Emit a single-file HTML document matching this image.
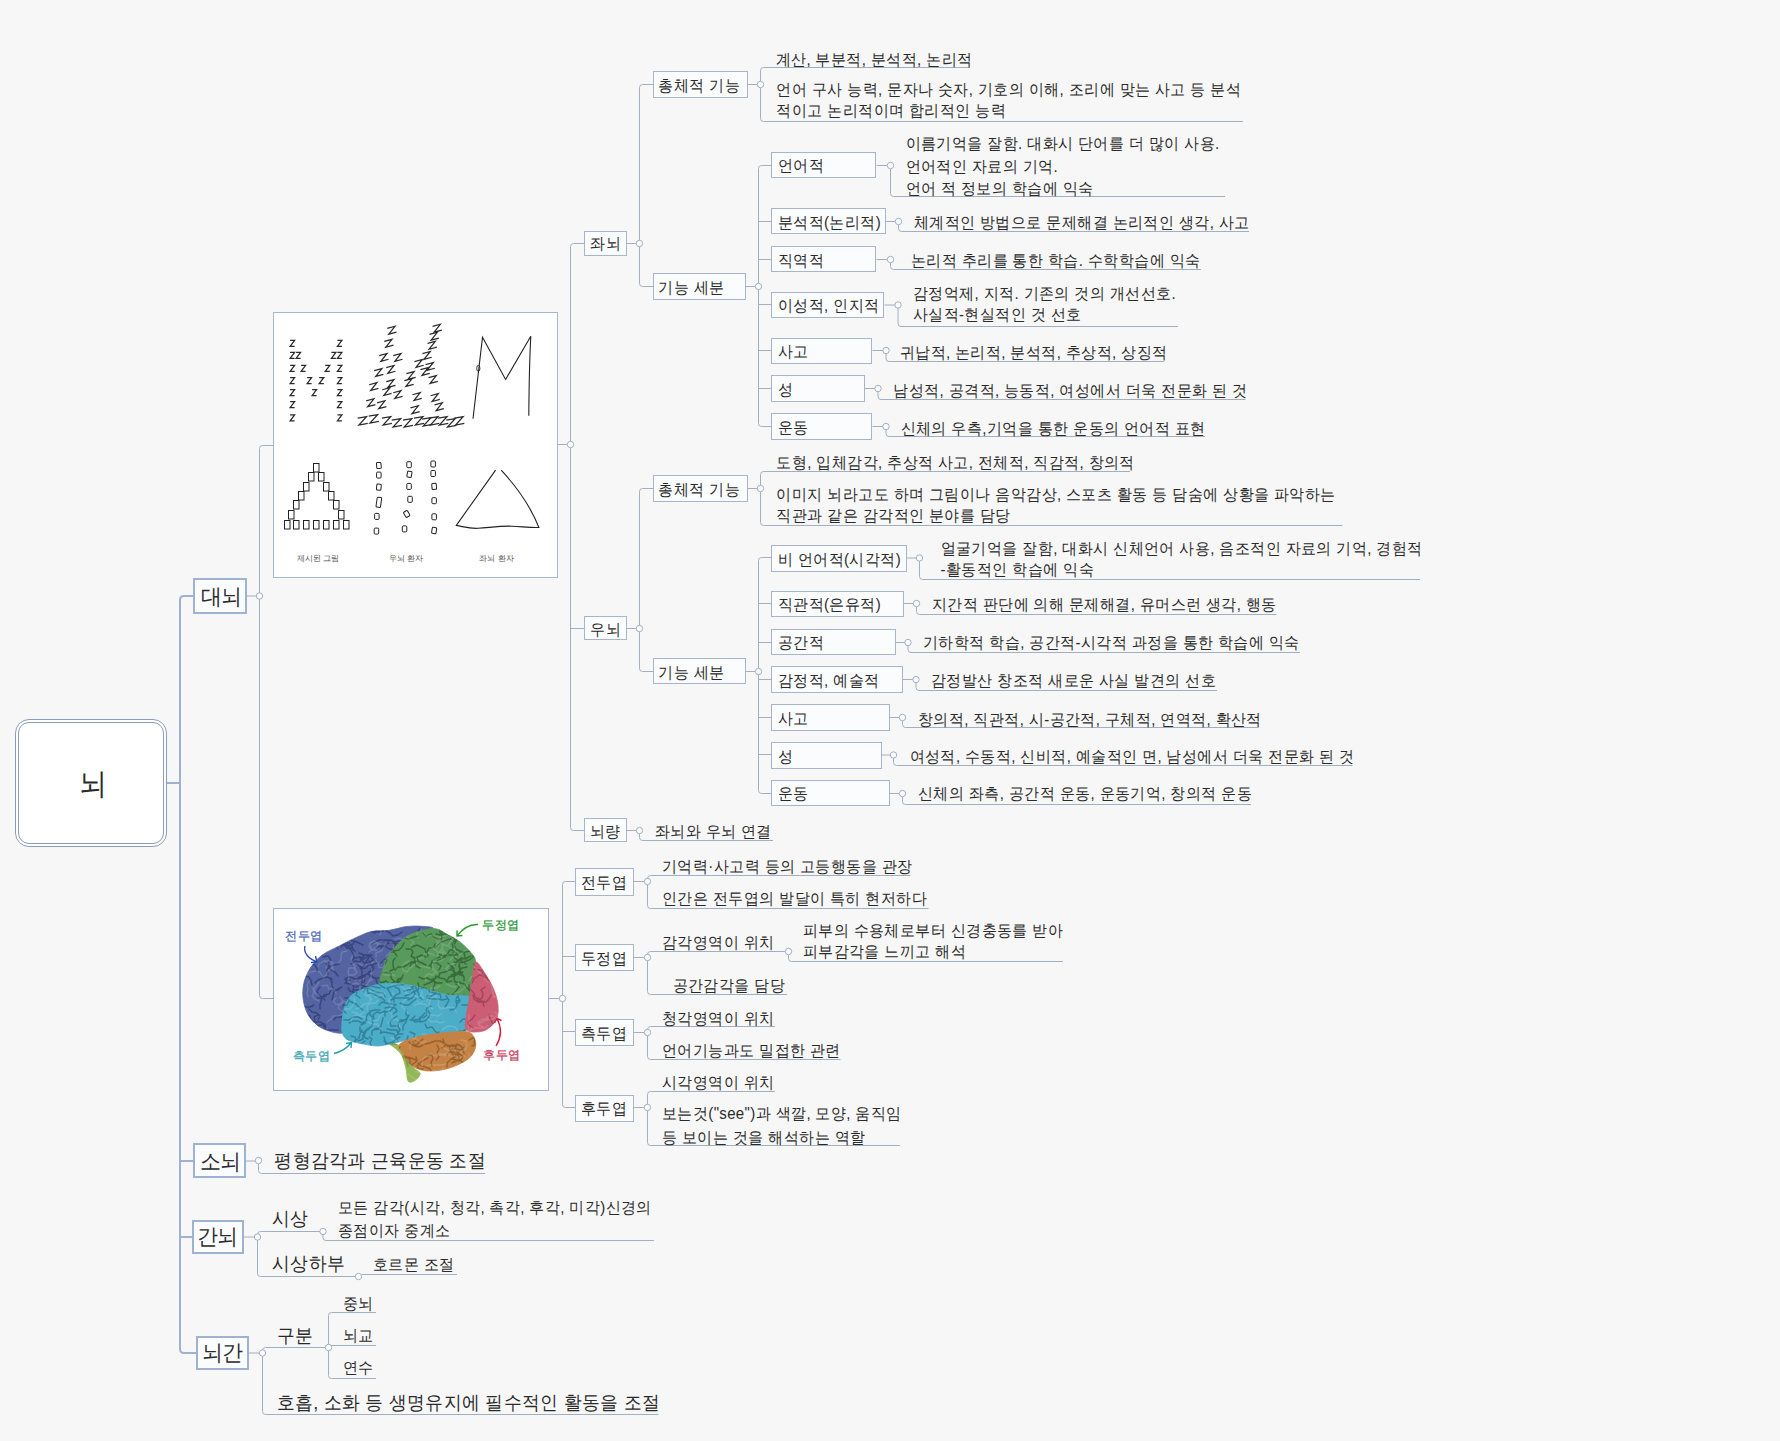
<!DOCTYPE html>
<html><head><meta charset="utf-8"><title>뇌</title>
<style>
html,body{margin:0;padding:0;width:1780px;height:1441px;overflow:hidden;background:#f7f7f7;}
body{position:relative;font-family:"Liberation Sans",sans-serif;color:#2a2a2a;}
.t{position:absolute;white-space:nowrap;}
.t i{font-style:normal;display:inline-block;}
.s15 i{width:15.45px} .s18 i{width:18.3px} .s21 i{width:20px} .s30 i{width:30px} .s28 i{width:28px}
.b{position:absolute;}
svg.l{position:absolute;left:0;top:0;}
</style></head><body>
<svg class="l" width="1780" height="1441" viewBox="0 0 1780 1441">
<path d="M167,783 H180" stroke="#a0b2d4" stroke-width="2" fill="none"/>
<path d="M193,596 H184 Q180,596 180,600 V1349 Q180,1353 184,1353 H196" stroke="#a0b2d4" stroke-width="2" fill="none"/>
<path d="M180,1161 H193" stroke="#a0b2d4" stroke-width="2" fill="none"/>
<path d="M180,1237 H192" stroke="#a0b2d4" stroke-width="2" fill="none"/>
<path d="M247,596 H256.5" stroke="#a2afc2" stroke-width="1" fill="none"/>
<path d="M273,445.5 H262.5 Q259.5,445.5 259.5,448.5 V995.5 Q259.5,998.5 262.5,998.5 H273" stroke="#a2afc2" stroke-width="1" fill="none"/>
<path d="M557,444.5 H567.5" stroke="#a2afc2" stroke-width="1" fill="none"/>
<path d="M584,243.5 H573.5 Q570.5,243.5 570.5,246.5 V827.5 Q570.5,830.5 573.5,830.5 H584" stroke="#a2afc2" stroke-width="1" fill="none"/>
<path d="M570.5,628.5 H584" stroke="#a2afc2" stroke-width="1" fill="none"/>
<path d="M627,243.5 H636.5" stroke="#a2afc2" stroke-width="1" fill="none"/>
<path d="M653,84.5 H642.5 Q639.5,84.5 639.5,87.5 V283.5 Q639.5,286.5 642.5,286.5 H653" stroke="#a2afc2" stroke-width="1" fill="none"/>
<path d="M748,84.5 H757.5" stroke="#a2afc2" stroke-width="1" fill="none"/>
<path d="M970,67.5 H763.5 Q760.5,67.5 760.5,70.5 V118.5 Q760.5,121.5 763.5,121.5 H1243" stroke="#a2afc2" stroke-width="1" fill="none"/>
<path d="M745.5,286.5 H755.5" stroke="#a2afc2" stroke-width="1" fill="none"/>
<path d="M771,165.5 H761.5 Q758.5,165.5 758.5,168.5 V423.5 Q758.5,426.5 761.5,426.5 H771" stroke="#a2afc2" stroke-width="1" fill="none"/>
<path d="M758.5,221.5 H771" stroke="#a2afc2" stroke-width="1" fill="none"/>
<path d="M758.5,259.5 H771" stroke="#a2afc2" stroke-width="1" fill="none"/>
<path d="M758.5,304.5 H771" stroke="#a2afc2" stroke-width="1" fill="none"/>
<path d="M758.5,350.5 H771" stroke="#a2afc2" stroke-width="1" fill="none"/>
<path d="M758.5,388.5 H771" stroke="#a2afc2" stroke-width="1" fill="none"/>
<path d="M876.5,165.5 H887.5" stroke="#a2afc2" stroke-width="1" fill="none"/>
<path d="M890.5,168.5 V193.5 Q890.5,196.5 893.5,196.5 H1225" stroke="#a2afc2" stroke-width="1" fill="none"/>
<path d="M885.5,221.5 H895.5" stroke="#a2afc2" stroke-width="1" fill="none"/>
<path d="M898.5,224.5 V228.5 Q898.5,231.5 901.5,231.5 H1249" stroke="#a2afc2" stroke-width="1" fill="none"/>
<path d="M876.5,259.5 H887.5" stroke="#a2afc2" stroke-width="1" fill="none"/>
<path d="M890.5,262.5 V266.5 Q890.5,269.5 893.5,269.5 H1201" stroke="#a2afc2" stroke-width="1" fill="none"/>
<path d="M884.5,305 H895" stroke="#a2afc2" stroke-width="1" fill="none"/>
<path d="M898,308 V323.5 Q898,326.5 901,326.5 H1178" stroke="#a2afc2" stroke-width="1" fill="none"/>
<path d="M872.5,350.5 H883" stroke="#a2afc2" stroke-width="1" fill="none"/>
<path d="M886,353.5 V358.5 Q886,361.5 889,361.5 H1164" stroke="#a2afc2" stroke-width="1" fill="none"/>
<path d="M865,388.5 H875" stroke="#a2afc2" stroke-width="1" fill="none"/>
<path d="M878,391.5 V396.5 Q878,399.5 881,399.5 H1245.5" stroke="#a2afc2" stroke-width="1" fill="none"/>
<path d="M872.5,426.5 H883" stroke="#a2afc2" stroke-width="1" fill="none"/>
<path d="M886,429.5 V433.5 Q886,436.5 889,436.5 H1205" stroke="#a2afc2" stroke-width="1" fill="none"/>
<path d="M627,628.5 H636.5" stroke="#a2afc2" stroke-width="1" fill="none"/>
<path d="M653,488.5 H642.5 Q639.5,488.5 639.5,491.5 V668.5 Q639.5,671.5 642.5,671.5 H653" stroke="#a2afc2" stroke-width="1" fill="none"/>
<path d="M748,488.5 H757.5" stroke="#a2afc2" stroke-width="1" fill="none"/>
<path d="M1130,471.5 H763.5 Q760.5,471.5 760.5,474.5 V522.5 Q760.5,525.5 763.5,525.5 H1342.5" stroke="#a2afc2" stroke-width="1" fill="none"/>
<path d="M745.5,671.5 H755.5" stroke="#a2afc2" stroke-width="1" fill="none"/>
<path d="M771,557.5 H761.5 Q758.5,557.5 758.5,560.5 V790.5 Q758.5,793.5 761.5,793.5 H771" stroke="#a2afc2" stroke-width="1" fill="none"/>
<path d="M758.5,603.5 H771" stroke="#a2afc2" stroke-width="1" fill="none"/>
<path d="M758.5,642.5 H771" stroke="#a2afc2" stroke-width="1" fill="none"/>
<path d="M758.5,679.5 H771" stroke="#a2afc2" stroke-width="1" fill="none"/>
<path d="M758.5,717.5 H771" stroke="#a2afc2" stroke-width="1" fill="none"/>
<path d="M758.5,754.5 H771" stroke="#a2afc2" stroke-width="1" fill="none"/>
<path d="M907,558 H916.5" stroke="#a2afc2" stroke-width="1" fill="none"/>
<path d="M919.5,561 V576.5 Q919.5,579.5 922.5,579.5 H1420" stroke="#a2afc2" stroke-width="1" fill="none"/>
<path d="M903.5,603.5 H913.5" stroke="#a2afc2" stroke-width="1" fill="none"/>
<path d="M916.5,606.5 V611.5 Q916.5,614.5 919.5,614.5 H1276.5" stroke="#a2afc2" stroke-width="1" fill="none"/>
<path d="M895.5,642.5 H905" stroke="#a2afc2" stroke-width="1" fill="none"/>
<path d="M908,645.5 V649.5 Q908,652.5 911,652.5 H1300" stroke="#a2afc2" stroke-width="1" fill="none"/>
<path d="M903,679.5 H913" stroke="#a2afc2" stroke-width="1" fill="none"/>
<path d="M916,682.5 V687.5 Q916,690.5 919,690.5 H1217" stroke="#a2afc2" stroke-width="1" fill="none"/>
<path d="M889.5,717.5 H899.5" stroke="#a2afc2" stroke-width="1" fill="none"/>
<path d="M902.5,720.5 V724.5 Q902.5,727.5 905.5,727.5 H1257.5" stroke="#a2afc2" stroke-width="1" fill="none"/>
<path d="M881.5,755 H890.5" stroke="#a2afc2" stroke-width="1" fill="none"/>
<path d="M893.5,758 V762.5 Q893.5,765.5 896.5,765.5 H1352.5" stroke="#a2afc2" stroke-width="1" fill="none"/>
<path d="M889.5,793.5 H899.5" stroke="#a2afc2" stroke-width="1" fill="none"/>
<path d="M902.5,796.5 V801.5 Q902.5,804.5 905.5,804.5 H1251" stroke="#a2afc2" stroke-width="1" fill="none"/>
<path d="M627,830.5 H636.5" stroke="#a2afc2" stroke-width="1" fill="none"/>
<path d="M639.5,833.5 V837.5 Q639.5,840.5 642.5,840.5 H773" stroke="#a2afc2" stroke-width="1" fill="none"/>
<path d="M549,998.5 H559.5" stroke="#a2afc2" stroke-width="1" fill="none"/>
<path d="M575.5,881.5 H565.5 Q562.5,881.5 562.5,884.5 V1104.5 Q562.5,1107.5 565.5,1107.5 H575.5" stroke="#a2afc2" stroke-width="1" fill="none"/>
<path d="M562.5,956.5 H575.5" stroke="#a2afc2" stroke-width="1" fill="none"/>
<path d="M562.5,1031.5 H575.5" stroke="#a2afc2" stroke-width="1" fill="none"/>
<path d="M633.5,881.5 H644.5" stroke="#a2afc2" stroke-width="1" fill="none"/>
<path d="M910.5,875.5 H650.5 Q647.5,875.5 647.5,878.5 V905.5 Q647.5,908.5 650.5,908.5 H928.5" stroke="#a2afc2" stroke-width="1" fill="none"/>
<path d="M633.5,957.5 H644.5" stroke="#a2afc2" stroke-width="1" fill="none"/>
<path d="M785.5,951.5 H650.5 Q647.5,951.5 647.5,954.5 V991.5 Q647.5,994.5 650.5,994.5 H787" stroke="#a2afc2" stroke-width="1" fill="none"/>
<path d="M788.5,954.5 V958.5 Q788.5,961.5 791.5,961.5 H1063" stroke="#a2afc2" stroke-width="1" fill="none"/>
<path d="M633.5,1032.5 H644.5" stroke="#a2afc2" stroke-width="1" fill="none"/>
<path d="M775,1026.5 H650.5 Q647.5,1026.5 647.5,1029.5 V1056.5 Q647.5,1059.5 650.5,1059.5 H840.5" stroke="#a2afc2" stroke-width="1" fill="none"/>
<path d="M633.5,1107.5 H644.5" stroke="#a2afc2" stroke-width="1" fill="none"/>
<path d="M775,1091.5 H650.5 Q647.5,1091.5 647.5,1094.5 V1142.5 Q647.5,1145.5 650.5,1145.5 H900" stroke="#a2afc2" stroke-width="1" fill="none"/>
<path d="M246,1161 H255.5" stroke="#a2afc2" stroke-width="1" fill="none"/>
<path d="M258.5,1163.5 V1170.5 Q258.5,1173.5 261.5,1173.5 H485" stroke="#a2afc2" stroke-width="1" fill="none"/>
<path d="M244,1237 H254.5" stroke="#a2afc2" stroke-width="1" fill="none"/>
<path d="M320,1231.5 H260.5 Q257.5,1231.5 257.5,1234.5 V1273.5 Q257.5,1276.5 260.5,1276.5 H355.5" stroke="#a2afc2" stroke-width="1" fill="none"/>
<path d="M323,1234.5 V1237.5 Q323,1240.5 326,1240.5 H654" stroke="#a2afc2" stroke-width="1" fill="none"/>
<path d="M361.5,1274.5 H457" stroke="#a2afc2" stroke-width="1" fill="none"/>
<path d="M249,1353 H259.5" stroke="#a2afc2" stroke-width="1" fill="none"/>
<path d="M325,1347.5 H265.5 Q262.5,1347.5 262.5,1350.5 V1411.5 Q262.5,1414.5 265.5,1414.5 H658.5" stroke="#a2afc2" stroke-width="1" fill="none"/>
<path d="M376,1312.5 H331.5 Q328.5,1312.5 328.5,1315.5 V1375.5 Q328.5,1378.5 331.5,1378.5 H376" stroke="#a2afc2" stroke-width="1" fill="none"/>
<path d="M328.5,1345.5 H376" stroke="#a2afc2" stroke-width="1" fill="none"/>
</svg>
<div class="b" style="left:15px;top:719px;width:150px;height:126px;border:1px solid #8c9cb8;border-radius:14px;background:#fff"></div>
<div class="b" style="left:18px;top:722px;width:144px;height:120px;border:1px solid #8c9cb8;border-radius:11px;background:#fff"></div>
<div class="t s28" style="left:79.0px;top:763.8px;font-size:28px;line-height:37.383px;letter-spacing:0px;transform:scaleY(1.07);transform-origin:0 0;"><i>뇌</i></div>
<div class="b" style="left:193px;top:578px;width:50px;height:32px;border:2px solid #a0b2d4;background:#fbfcfe"></div>
<div class="t s21" style="left:201.4px;top:583.5px;font-size:21px;line-height:24.762px;letter-spacing:-1px;transform:scaleY(1.05);transform-origin:0 0;"><i>대</i><i>뇌</i></div>
<div class="b" style="left:193px;top:1143px;width:49px;height:31px;border:2px solid #a0b2d4;background:#fbfcfe"></div>
<div class="t s21" style="left:200.0px;top:1149.2px;font-size:21px;line-height:24.762px;letter-spacing:-1px;transform:scaleY(1.05);transform-origin:0 0;"><i>소</i><i>뇌</i></div>
<div class="b" style="left:192px;top:1220px;width:48px;height:30px;border:2px solid #a0b2d4;background:#fbfcfe"></div>
<div class="t s21" style="left:197.0px;top:1224.2px;font-size:21px;line-height:24.762px;letter-spacing:-1px;transform:scaleY(1.05);transform-origin:0 0;"><i>간</i><i>뇌</i></div>
<div class="b" style="left:196px;top:1336px;width:49px;height:30px;border:2px solid #a0b2d4;background:#fbfcfe"></div>
<div class="t s21" style="left:201.5px;top:1339.8px;font-size:21px;line-height:24.762px;letter-spacing:-1px;transform:scaleY(1.05);transform-origin:0 0;"><i>뇌</i><i>간</i></div>
<div class="b" style="left:273px;top:312px;width:283px;height:264px;border:1px solid #a7b7d0;background:#fff"></div>
<div class="b" style="left:584px;top:231px;width:41px;height:23px;border:1px solid #a6b5cc;background:#fbfcfe"></div>
<div class="t s15" style="left:590.1px;top:232.6px;font-size:15px;line-height:20.093px;letter-spacing:0.35px;transform:scaleY(1.07);transform-origin:0 0;"><i>좌</i><i>뇌</i></div>
<div class="b" style="left:653px;top:71px;width:93px;height:25px;border:1px solid #a6b5cc;background:#fbfcfe"></div>
<div class="t s15" style="left:658.4px;top:74.6px;font-size:15px;line-height:20.093px;letter-spacing:0.35px;transform:scaleY(1.07);transform-origin:0 0;"><i>총</i><i>체</i><i>적</i> <i>기</i><i>능</i></div>
<div class="t s15" style="left:775.5px;top:49.0px;font-size:15px;line-height:20.093px;letter-spacing:0.35px;transform:scaleY(1.07);transform-origin:0 0;"><i>계</i><i>산</i>, <i>부</i><i>분</i><i>적</i>, <i>분</i><i>석</i><i>적</i>, <i>논</i><i>리</i><i>적</i></div>
<div class="t s15" style="left:776.4px;top:79.4px;font-size:15px;line-height:20.093px;letter-spacing:0.35px;transform:scaleY(1.07);transform-origin:0 0;"><i>언</i><i>어</i> <i>구</i><i>사</i> <i>능</i><i>력</i>, <i>문</i><i>자</i><i>나</i> <i>숫</i><i>자</i>, <i>기</i><i>호</i><i>의</i> <i>이</i><i>해</i>, <i>조</i><i>리</i><i>에</i> <i>맞</i><i>는</i> <i>사</i><i>고</i> <i>등</i> <i>분</i><i>석</i><br><i>적</i><i>이</i><i>고</i> <i>논</i><i>리</i><i>적</i><i>이</i><i>며</i> <i>합</i><i>리</i><i>적</i><i>인</i> <i>능</i><i>력</i></div>
<div class="b" style="left:653px;top:273px;width:91px;height:25px;border:1px solid #a6b5cc;background:#fbfcfe"></div>
<div class="t s15" style="left:658.4px;top:276.9px;font-size:15px;line-height:20.093px;letter-spacing:0.35px;transform:scaleY(1.07);transform-origin:0 0;"><i>기</i><i>능</i> <i>세</i><i>분</i></div>
<div class="b" style="left:771px;top:152px;width:103px;height:24px;border:1px solid #a6b5cc;background:#fbfcfe"></div>
<div class="t s15" style="left:777.8px;top:155.1px;font-size:15px;line-height:20.093px;letter-spacing:0.35px;transform:scaleY(1.07);transform-origin:0 0;"><i>언</i><i>어</i><i>적</i></div>
<div class="t s15" style="left:905.5px;top:132.6px;font-size:15px;line-height:20.748px;letter-spacing:0.35px;transform:scaleY(1.07);transform-origin:0 0;"><i>이</i><i>름</i><i>기</i><i>억</i><i>을</i> <i>잘</i><i>함</i>. <i>대</i><i>화</i><i>시</i> <i>단</i><i>어</i><i>를</i> <i>더</i> <i>많</i><i>이</i> <i>사</i><i>용</i>.<br><i>언</i><i>어</i><i>적</i><i>인</i> <i>자</i><i>료</i><i>의</i> <i>기</i><i>억</i>.<br><i>언</i><i>어</i> <i>적</i> <i>정</i><i>보</i><i>의</i> <i>학</i><i>습</i><i>에</i> <i>익</i><i>숙</i></div>
<div class="b" style="left:771px;top:208px;width:113px;height:24px;border:1px solid #a6b5cc;background:#fbfcfe"></div>
<div class="t s15" style="left:777.8px;top:211.6px;font-size:15px;line-height:20.093px;letter-spacing:0.35px;transform:scaleY(1.07);transform-origin:0 0;"><i>분</i><i>석</i><i>적</i>(<i>논</i><i>리</i><i>적</i>)</div>
<div class="t s15" style="left:913.7px;top:212.2px;font-size:15px;line-height:20.093px;letter-spacing:0.35px;transform:scaleY(1.07);transform-origin:0 0;"><i>체</i><i>계</i><i>적</i><i>인</i> <i>방</i><i>법</i><i>으</i><i>로</i> <i>문</i><i>제</i><i>해</i><i>결</i> <i>논</i><i>리</i><i>적</i><i>인</i> <i>생</i><i>각</i>, <i>사</i><i>고</i></div>
<div class="b" style="left:771px;top:246px;width:103px;height:24px;border:1px solid #a6b5cc;background:#fbfcfe"></div>
<div class="t s15" style="left:777.8px;top:249.6px;font-size:15px;line-height:20.093px;letter-spacing:0.35px;transform:scaleY(1.07);transform-origin:0 0;"><i>직</i><i>역</i><i>적</i></div>
<div class="t s15" style="left:910.8px;top:250.2px;font-size:15px;line-height:20.093px;letter-spacing:0.35px;transform:scaleY(1.07);transform-origin:0 0;"><i>논</i><i>리</i><i>적</i> <i>추</i><i>리</i><i>를</i> <i>통</i><i>한</i> <i>학</i><i>습</i>. <i>수</i><i>학</i><i>학</i><i>습</i><i>에</i> <i>익</i><i>숙</i></div>
<div class="b" style="left:771px;top:292px;width:111px;height:24px;border:1px solid #a6b5cc;background:#fbfcfe"></div>
<div class="t s15" style="left:777.8px;top:295.1px;font-size:15px;line-height:20.093px;letter-spacing:0.35px;transform:scaleY(1.07);transform-origin:0 0;"><i>이</i><i>성</i><i>적</i>, <i>인</i><i>지</i><i>적</i></div>
<div class="t s15" style="left:912.8px;top:283.1px;font-size:15px;line-height:20.093px;letter-spacing:0.35px;transform:scaleY(1.07);transform-origin:0 0;"><i>감</i><i>정</i><i>억</i><i>제</i>, <i>지</i><i>적</i>. <i>기</i><i>존</i><i>의</i> <i>것</i><i>의</i> <i>개</i><i>선</i><i>선</i><i>호</i>.<br><i>사</i><i>실</i><i>적</i>-<i>현</i><i>실</i><i>적</i><i>인</i> <i>것</i> <i>선</i><i>호</i></div>
<div class="b" style="left:771px;top:338px;width:99px;height:24px;border:1px solid #a6b5cc;background:#fbfcfe"></div>
<div class="t s15" style="left:777.8px;top:341.1px;font-size:15px;line-height:20.093px;letter-spacing:0.35px;transform:scaleY(1.07);transform-origin:0 0;"><i>사</i><i>고</i></div>
<div class="t s15" style="left:899.7px;top:341.5px;font-size:15px;line-height:20.093px;letter-spacing:0.35px;transform:scaleY(1.07);transform-origin:0 0;"><i>귀</i><i>납</i><i>적</i>, <i>논</i><i>리</i><i>적</i>, <i>분</i><i>석</i><i>적</i>, <i>추</i><i>상</i><i>적</i>, <i>상</i><i>징</i><i>적</i></div>
<div class="b" style="left:771px;top:375px;width:92px;height:25px;border:1px solid #a6b5cc;background:#fbfcfe"></div>
<div class="t s15" style="left:777.8px;top:378.6px;font-size:15px;line-height:20.093px;letter-spacing:0.35px;transform:scaleY(1.07);transform-origin:0 0;"><i>성</i></div>
<div class="t s15" style="left:893.3px;top:379.5px;font-size:15px;line-height:20.093px;letter-spacing:0.35px;transform:scaleY(1.07);transform-origin:0 0;"><i>남</i><i>성</i><i>적</i>, <i>공</i><i>격</i><i>적</i>, <i>능</i><i>동</i><i>적</i>, <i>여</i><i>성</i><i>에</i><i>서</i> <i>더</i><i>욱</i> <i>전</i><i>문</i><i>화</i> <i>된</i> <i>것</i></div>
<div class="b" style="left:771px;top:413px;width:99px;height:25px;border:1px solid #a6b5cc;background:#fbfcfe"></div>
<div class="t s15" style="left:777.8px;top:416.6px;font-size:15px;line-height:20.093px;letter-spacing:0.35px;transform:scaleY(1.07);transform-origin:0 0;"><i>운</i><i>동</i></div>
<div class="t s15" style="left:900.6px;top:417.5px;font-size:15px;line-height:20.093px;letter-spacing:0.35px;transform:scaleY(1.07);transform-origin:0 0;"><i>신</i><i>체</i><i>의</i> <i>우</i><i>측</i>,<i>기</i><i>억</i><i>을</i> <i>통</i><i>한</i> <i>운</i><i>동</i><i>의</i> <i>언</i><i>어</i><i>적</i> <i>표</i><i>현</i></div>
<div class="b" style="left:584px;top:616px;width:41px;height:22px;border:1px solid #a6b5cc;background:#fbfcfe"></div>
<div class="t s15" style="left:590.2px;top:618.8px;font-size:15px;line-height:20.093px;letter-spacing:0.35px;transform:scaleY(1.07);transform-origin:0 0;"><i>우</i><i>뇌</i></div>
<div class="b" style="left:653px;top:475px;width:93px;height:25px;border:1px solid #a6b5cc;background:#fbfcfe"></div>
<div class="t s15" style="left:658.4px;top:478.9px;font-size:15px;line-height:20.093px;letter-spacing:0.35px;transform:scaleY(1.07);transform-origin:0 0;"><i>총</i><i>체</i><i>적</i> <i>기</i><i>능</i></div>
<div class="t s15" style="left:776.4px;top:452.0px;font-size:15px;line-height:20.093px;letter-spacing:0.35px;transform:scaleY(1.07);transform-origin:0 0;"><i>도</i><i>형</i>, <i>입</i><i>체</i><i>감</i><i>각</i>, <i>추</i><i>상</i><i>적</i> <i>사</i><i>고</i>, <i>전</i><i>체</i><i>적</i>, <i>직</i><i>감</i><i>적</i>, <i>창</i><i>의</i><i>적</i></div>
<div class="t s15" style="left:776.4px;top:484.3px;font-size:15px;line-height:20.093px;letter-spacing:0.35px;transform:scaleY(1.07);transform-origin:0 0;"><i>이</i><i>미</i><i>지</i> <i>뇌</i><i>라</i><i>고</i><i>도</i> <i>하</i><i>며</i> <i>그</i><i>림</i><i>이</i><i>나</i> <i>음</i><i>악</i><i>감</i><i>상</i>, <i>스</i><i>포</i><i>츠</i> <i>활</i><i>동</i> <i>등</i> <i>담</i><i>숨</i><i>에</i> <i>상</i><i>황</i><i>을</i> <i>파</i><i>악</i><i>하</i><i>는</i><br><i>직</i><i>관</i><i>과</i> <i>같</i><i>은</i> <i>감</i><i>각</i><i>적</i><i>인</i> <i>분</i><i>야</i><i>를</i> <i>담</i><i>당</i></div>
<div class="b" style="left:653px;top:658px;width:91px;height:24px;border:1px solid #a6b5cc;background:#fbfcfe"></div>
<div class="t s15" style="left:658.4px;top:662.1px;font-size:15px;line-height:20.093px;letter-spacing:0.35px;transform:scaleY(1.07);transform-origin:0 0;"><i>기</i><i>능</i> <i>세</i><i>분</i></div>
<div class="b" style="left:771px;top:545px;width:134px;height:25px;border:1px solid #a6b5cc;background:#fbfcfe"></div>
<div class="t s15" style="left:777.8px;top:548.6px;font-size:15px;line-height:20.093px;letter-spacing:0.35px;transform:scaleY(1.07);transform-origin:0 0;"><i>비</i> <i>언</i><i>어</i><i>적</i>(<i>시</i><i>각</i><i>적</i>)</div>
<div class="t s15" style="left:940.6px;top:538.0px;font-size:15px;line-height:20.093px;letter-spacing:0.35px;transform:scaleY(1.07);transform-origin:0 0;"><i>얼</i><i>굴</i><i>기</i><i>억</i><i>을</i> <i>잘</i><i>함</i>, <i>대</i><i>화</i><i>시</i> <i>신</i><i>체</i><i>언</i><i>어</i> <i>사</i><i>용</i>, <i>음</i><i>조</i><i>적</i><i>인</i> <i>자</i><i>료</i><i>의</i> <i>기</i><i>억</i>, <i>경</i><i>험</i><i>적</i><br>-<i>활</i><i>동</i><i>적</i><i>인</i> <i>학</i><i>습</i><i>에</i> <i>익</i><i>숙</i></div>
<div class="b" style="left:771px;top:591px;width:131px;height:24px;border:1px solid #a6b5cc;background:#fbfcfe"></div>
<div class="t s15" style="left:777.8px;top:594.1px;font-size:15px;line-height:20.093px;letter-spacing:0.35px;transform:scaleY(1.07);transform-origin:0 0;"><i>직</i><i>관</i><i>적</i>(<i>은</i><i>유</i><i>적</i>)</div>
<div class="t s15" style="left:931.8px;top:594.2px;font-size:15px;line-height:20.093px;letter-spacing:0.35px;transform:scaleY(1.07);transform-origin:0 0;"><i>지</i><i>간</i><i>적</i> <i>판</i><i>단</i><i>에</i> <i>의</i><i>해</i> <i>문</i><i>제</i><i>해</i><i>결</i>, <i>유</i><i>머</i><i>스</i><i>런</i> <i>생</i><i>각</i>, <i>행</i><i>동</i></div>
<div class="b" style="left:771px;top:629px;width:123px;height:24px;border:1px solid #a6b5cc;background:#fbfcfe"></div>
<div class="t s15" style="left:777.8px;top:632.1px;font-size:15px;line-height:20.093px;letter-spacing:0.35px;transform:scaleY(1.07);transform-origin:0 0;"><i>공</i><i>간</i><i>적</i></div>
<div class="t s15" style="left:923.0px;top:632.1px;font-size:15px;line-height:20.093px;letter-spacing:0.35px;transform:scaleY(1.07);transform-origin:0 0;"><i>기</i><i>하</i><i>학</i><i>적</i> <i>학</i><i>습</i>, <i>공</i><i>간</i><i>적</i>-<i>시</i><i>각</i><i>적</i> <i>과</i><i>정</i><i>을</i> <i>통</i><i>한</i> <i>학</i><i>습</i><i>에</i> <i>익</i><i>숙</i></div>
<div class="b" style="left:771px;top:666px;width:130px;height:25px;border:1px solid #a6b5cc;background:#fbfcfe"></div>
<div class="t s15" style="left:777.8px;top:669.6px;font-size:15px;line-height:20.093px;letter-spacing:0.35px;transform:scaleY(1.07);transform-origin:0 0;"><i>감</i><i>정</i><i>적</i>, <i>예</i><i>술</i><i>적</i></div>
<div class="t s15" style="left:931.0px;top:670.1px;font-size:15px;line-height:20.093px;letter-spacing:0.35px;transform:scaleY(1.07);transform-origin:0 0;"><i>감</i><i>정</i><i>발</i><i>산</i> <i>창</i><i>조</i><i>적</i> <i>새</i><i>로</i><i>운</i> <i>사</i><i>실</i> <i>발</i><i>견</i><i>의</i> <i>선</i><i>호</i></div>
<div class="b" style="left:771px;top:704px;width:117px;height:25px;border:1px solid #a6b5cc;background:#fbfcfe"></div>
<div class="t s15" style="left:777.8px;top:707.6px;font-size:15px;line-height:20.093px;letter-spacing:0.35px;transform:scaleY(1.07);transform-origin:0 0;"><i>사</i><i>고</i></div>
<div class="t s15" style="left:918.0px;top:708.7px;font-size:15px;line-height:20.093px;letter-spacing:0.35px;transform:scaleY(1.07);transform-origin:0 0;"><i>창</i><i>의</i><i>적</i>, <i>직</i><i>관</i><i>적</i>, <i>시</i>-<i>공</i><i>간</i><i>적</i>, <i>구</i><i>체</i><i>적</i>, <i>연</i><i>역</i><i>적</i>, <i>확</i><i>산</i><i>적</i></div>
<div class="b" style="left:771px;top:742px;width:109px;height:25px;border:1px solid #a6b5cc;background:#fbfcfe"></div>
<div class="t s15" style="left:777.8px;top:745.6px;font-size:15px;line-height:20.093px;letter-spacing:0.35px;transform:scaleY(1.07);transform-origin:0 0;"><i>성</i></div>
<div class="t s15" style="left:909.6px;top:745.7px;font-size:15px;line-height:20.093px;letter-spacing:0.35px;transform:scaleY(1.07);transform-origin:0 0;"><i>여</i><i>성</i><i>적</i>, <i>수</i><i>동</i><i>적</i>, <i>신</i><i>비</i><i>적</i>, <i>예</i><i>술</i><i>적</i><i>인</i> <i>면</i>, <i>남</i><i>성</i><i>에</i><i>서</i> <i>더</i><i>욱</i> <i>전</i><i>문</i><i>화</i> <i>된</i> <i>것</i></div>
<div class="b" style="left:771px;top:780px;width:117px;height:24px;border:1px solid #a6b5cc;background:#fbfcfe"></div>
<div class="t s15" style="left:777.8px;top:783.1px;font-size:15px;line-height:20.093px;letter-spacing:0.35px;transform:scaleY(1.07);transform-origin:0 0;"><i>운</i><i>동</i></div>
<div class="t s15" style="left:918.0px;top:783.3px;font-size:15px;line-height:20.093px;letter-spacing:0.35px;transform:scaleY(1.07);transform-origin:0 0;"><i>신</i><i>체</i><i>의</i> <i>좌</i><i>측</i>, <i>공</i><i>간</i><i>적</i> <i>운</i><i>동</i>, <i>운</i><i>동</i><i>기</i><i>억</i>, <i>창</i><i>의</i><i>적</i> <i>운</i><i>동</i></div>
<div class="b" style="left:584px;top:818px;width:41px;height:22px;border:1px solid #a6b5cc;background:#fbfcfe"></div>
<div class="t s15" style="left:589.9px;top:820.9px;font-size:15px;line-height:20.093px;letter-spacing:0.35px;transform:scaleY(1.07);transform-origin:0 0;"><i>뇌</i><i>량</i></div>
<div class="t s15" style="left:654.7px;top:820.5px;font-size:15px;line-height:20.093px;letter-spacing:0.35px;transform:scaleY(1.07);transform-origin:0 0;"><i>좌</i><i>뇌</i><i>와</i> <i>우</i><i>뇌</i> <i>연</i><i>결</i></div>
<div class="b" style="left:273px;top:908px;width:274px;height:181px;border:1px solid #a7b7d0;background:#fff"></div>
<div class="b" style="left:575px;top:868px;width:57px;height:26px;border:1px solid #a6b5cc;background:#fbfcfe"></div>
<div class="t s15" style="left:581.0px;top:872.1px;font-size:15px;line-height:20.093px;letter-spacing:0.35px;transform:scaleY(1.07);transform-origin:0 0;"><i>전</i><i>두</i><i>엽</i></div>
<div class="t s15" style="left:662.0px;top:856.4px;font-size:15px;line-height:20.093px;letter-spacing:0.35px;transform:scaleY(1.07);transform-origin:0 0;"><i>기</i><i>억</i><i>력</i>·<i>사</i><i>고</i><i>력</i> <i>등</i><i>의</i> <i>고</i><i>등</i><i>행</i><i>동</i><i>을</i> <i>관</i><i>장</i></div>
<div class="t s15" style="left:662.0px;top:887.9px;font-size:15px;line-height:20.093px;letter-spacing:0.35px;transform:scaleY(1.07);transform-origin:0 0;"><i>인</i><i>간</i><i>은</i> <i>전</i><i>두</i><i>엽</i><i>의</i> <i>발</i><i>달</i><i>이</i> <i>특</i><i>히</i> <i>현</i><i>저</i><i>하</i><i>다</i></div>
<div class="b" style="left:575px;top:944px;width:57px;height:25px;border:1px solid #a6b5cc;background:#fbfcfe"></div>
<div class="t s15" style="left:581.0px;top:947.6px;font-size:15px;line-height:20.093px;letter-spacing:0.35px;transform:scaleY(1.07);transform-origin:0 0;"><i>두</i><i>정</i><i>엽</i></div>
<div class="t s15" style="left:662.0px;top:931.9px;font-size:15px;line-height:20.093px;letter-spacing:0.35px;transform:scaleY(1.07);transform-origin:0 0;"><i>감</i><i>각</i><i>영</i><i>역</i><i>이</i> <i>위</i><i>치</i></div>
<div class="t s15" style="left:802.7px;top:920.1px;font-size:15px;line-height:20.093px;letter-spacing:0.35px;transform:scaleY(1.07);transform-origin:0 0;"><i>피</i><i>부</i><i>의</i> <i>수</i><i>용</i><i>체</i><i>로</i><i>부</i><i>터</i> <i>신</i><i>경</i><i>충</i><i>동</i><i>를</i> <i>받</i><i>아</i><br><i>피</i><i>부</i><i>감</i><i>각</i><i>을</i> <i>느</i><i>끼</i><i>고</i> <i>해</i><i>석</i></div>
<div class="t s15" style="left:672.6px;top:974.5px;font-size:15px;line-height:20.093px;letter-spacing:0.35px;transform:scaleY(1.07);transform-origin:0 0;"><i>공</i><i>간</i><i>감</i><i>각</i><i>을</i> <i>담</i><i>당</i></div>
<div class="b" style="left:575px;top:1019px;width:57px;height:25px;border:1px solid #a6b5cc;background:#fbfcfe"></div>
<div class="t s15" style="left:581.0px;top:1022.6px;font-size:15px;line-height:20.093px;letter-spacing:0.35px;transform:scaleY(1.07);transform-origin:0 0;"><i>측</i><i>두</i><i>엽</i></div>
<div class="t s15" style="left:662.0px;top:1008.4px;font-size:15px;line-height:20.093px;letter-spacing:0.35px;transform:scaleY(1.07);transform-origin:0 0;"><i>청</i><i>각</i><i>영</i><i>역</i><i>이</i> <i>위</i><i>치</i></div>
<div class="t s15" style="left:662.0px;top:1039.9px;font-size:15px;line-height:20.093px;letter-spacing:0.35px;transform:scaleY(1.07);transform-origin:0 0;"><i>언</i><i>어</i><i>기</i><i>능</i><i>과</i><i>도</i> <i>밀</i><i>접</i><i>한</i> <i>관</i><i>련</i></div>
<div class="b" style="left:575px;top:1095px;width:57px;height:25px;border:1px solid #a6b5cc;background:#fbfcfe"></div>
<div class="t s15" style="left:581.0px;top:1098.1px;font-size:15px;line-height:20.093px;letter-spacing:0.35px;transform:scaleY(1.07);transform-origin:0 0;"><i>후</i><i>두</i><i>엽</i></div>
<div class="t s15" style="left:662.0px;top:1072.4px;font-size:15px;line-height:20.093px;letter-spacing:0.35px;transform:scaleY(1.07);transform-origin:0 0;"><i>시</i><i>각</i><i>영</i><i>역</i><i>이</i> <i>위</i><i>치</i></div>
<div class="t s15" style="left:662.0px;top:1102.2px;font-size:15px;line-height:21.495px;letter-spacing:0.35px;transform:scaleY(1.07);transform-origin:0 0;"><i>보</i><i>는</i><i>것</i>("see")<i>과</i> <i>색</i><i>깔</i>, <i>모</i><i>양</i>, <i>움</i><i>직</i><i>임</i><br><i>등</i> <i>보</i><i>이</i><i>는</i> <i>것</i><i>을</i> <i>해</i><i>석</i><i>하</i><i>는</i> <i>역</i><i>할</i></div>
<div class="t s18" style="left:274.3px;top:1149.4px;font-size:18px;line-height:22.430px;letter-spacing:0.15px;transform:scaleY(1.07);transform-origin:0 0;"><i>평</i><i>형</i><i>감</i><i>각</i><i>과</i> <i>근</i><i>육</i><i>운</i><i>동</i> <i>조</i><i>절</i></div>
<div class="t s18" style="left:272.0px;top:1207.0px;font-size:18px;line-height:22.430px;letter-spacing:0.15px;transform:scaleY(1.07);transform-origin:0 0;"><i>시</i><i>상</i></div>
<div class="t s15" style="left:338.0px;top:1197.2px;font-size:15px;line-height:20.841px;letter-spacing:0.35px;transform:scaleY(1.07);transform-origin:0 0;"><i>모</i><i>든</i> <i>감</i><i>각</i>(<i>시</i><i>각</i>, <i>청</i><i>각</i>, <i>촉</i><i>각</i>, <i>후</i><i>각</i>, <i>미</i><i>각</i>)<i>신</i><i>경</i><i>의</i><br><i>종</i><i>점</i><i>이</i><i>자</i> <i>중</i><i>계</i><i>소</i></div>
<div class="t s18" style="left:272.0px;top:1251.6px;font-size:18px;line-height:22.430px;letter-spacing:0.15px;transform:scaleY(1.07);transform-origin:0 0;"><i>시</i><i>상</i><i>하</i><i>부</i></div>
<div class="t s15" style="left:373.0px;top:1254.2px;font-size:15px;line-height:20.093px;letter-spacing:0.35px;transform:scaleY(1.07);transform-origin:0 0;"><i>호</i><i>르</i><i>몬</i> <i>조</i><i>절</i></div>
<div class="t s18" style="left:276.7px;top:1323.8px;font-size:18px;line-height:22.430px;letter-spacing:0.15px;transform:scaleY(1.07);transform-origin:0 0;"><i>구</i><i>분</i></div>
<div class="t s15" style="left:342.6px;top:1292.5px;font-size:15px;line-height:20.093px;letter-spacing:0.35px;transform:scaleY(1.07);transform-origin:0 0;"><i>중</i><i>뇌</i></div>
<div class="t s15" style="left:342.6px;top:1324.9px;font-size:15px;line-height:20.093px;letter-spacing:0.35px;transform:scaleY(1.07);transform-origin:0 0;"><i>뇌</i><i>교</i></div>
<div class="t s15" style="left:342.6px;top:1357.4px;font-size:15px;line-height:20.093px;letter-spacing:0.35px;transform:scaleY(1.07);transform-origin:0 0;"><i>연</i><i>수</i></div>
<div class="t s18" style="left:276.7px;top:1390.6px;font-size:18px;line-height:22.430px;letter-spacing:0.15px;transform:scaleY(1.07);transform-origin:0 0;"><i>호</i><i>흡</i>, <i>소</i><i>화</i> <i>등</i> <i>생</i><i>명</i><i>유</i><i>지</i><i>에</i> <i>필</i><i>수</i><i>적</i><i>인</i> <i>활</i><i>동</i><i>을</i> <i>조</i><i>절</i></div>

<svg class="l" width="1780" height="1441" viewBox="0 0 1780 1441" style="pointer-events:none">
<circle cx="259.5" cy="596" r="3.2" fill="#fafdff" stroke="#a2afc0" stroke-width="1"/>
<circle cx="570.5" cy="444.5" r="3.2" fill="#fafdff" stroke="#a2afc0" stroke-width="1"/>
<circle cx="639.5" cy="243.5" r="3.2" fill="#fafdff" stroke="#a2afc0" stroke-width="1"/>
<circle cx="760.5" cy="84.5" r="3.2" fill="#fafdff" stroke="#a2afc0" stroke-width="1"/>
<circle cx="758.5" cy="286.5" r="3.2" fill="#fafdff" stroke="#a2afc0" stroke-width="1"/>
<circle cx="890.5" cy="165.5" r="3.2" fill="#fafdff" stroke="#a2afc0" stroke-width="1"/>
<circle cx="898.5" cy="221.5" r="3.2" fill="#fafdff" stroke="#a2afc0" stroke-width="1"/>
<circle cx="890.5" cy="259.5" r="3.2" fill="#fafdff" stroke="#a2afc0" stroke-width="1"/>
<circle cx="898" cy="305" r="3.2" fill="#fafdff" stroke="#a2afc0" stroke-width="1"/>
<circle cx="886" cy="350.5" r="3.2" fill="#fafdff" stroke="#a2afc0" stroke-width="1"/>
<circle cx="878" cy="388.5" r="3.2" fill="#fafdff" stroke="#a2afc0" stroke-width="1"/>
<circle cx="886" cy="426.5" r="3.2" fill="#fafdff" stroke="#a2afc0" stroke-width="1"/>
<circle cx="639.5" cy="628.5" r="3.2" fill="#fafdff" stroke="#a2afc0" stroke-width="1"/>
<circle cx="760.5" cy="488.5" r="3.2" fill="#fafdff" stroke="#a2afc0" stroke-width="1"/>
<circle cx="758.5" cy="671.5" r="3.2" fill="#fafdff" stroke="#a2afc0" stroke-width="1"/>
<circle cx="919.5" cy="558" r="3.2" fill="#fafdff" stroke="#a2afc0" stroke-width="1"/>
<circle cx="916.5" cy="603.5" r="3.2" fill="#fafdff" stroke="#a2afc0" stroke-width="1"/>
<circle cx="908" cy="642.5" r="3.2" fill="#fafdff" stroke="#a2afc0" stroke-width="1"/>
<circle cx="916" cy="679.5" r="3.2" fill="#fafdff" stroke="#a2afc0" stroke-width="1"/>
<circle cx="902.5" cy="717.5" r="3.2" fill="#fafdff" stroke="#a2afc0" stroke-width="1"/>
<circle cx="893.5" cy="755" r="3.2" fill="#fafdff" stroke="#a2afc0" stroke-width="1"/>
<circle cx="902.5" cy="793.5" r="3.2" fill="#fafdff" stroke="#a2afc0" stroke-width="1"/>
<circle cx="639.5" cy="830.5" r="3.2" fill="#fafdff" stroke="#a2afc0" stroke-width="1"/>
<circle cx="562.5" cy="998.5" r="3.2" fill="#fafdff" stroke="#a2afc0" stroke-width="1"/>
<circle cx="647.5" cy="881.5" r="3.2" fill="#fafdff" stroke="#a2afc0" stroke-width="1"/>
<circle cx="647.5" cy="957.5" r="3.2" fill="#fafdff" stroke="#a2afc0" stroke-width="1"/>
<circle cx="788.5" cy="951.5" r="3.2" fill="#fafdff" stroke="#a2afc0" stroke-width="1"/>
<circle cx="647.5" cy="1032.5" r="3.2" fill="#fafdff" stroke="#a2afc0" stroke-width="1"/>
<circle cx="647.5" cy="1107.5" r="3.2" fill="#fafdff" stroke="#a2afc0" stroke-width="1"/>
<circle cx="258.5" cy="1160.5" r="3.2" fill="#fafdff" stroke="#a2afc0" stroke-width="1"/>
<circle cx="257.5" cy="1237" r="3.2" fill="#fafdff" stroke="#a2afc0" stroke-width="1"/>
<circle cx="323" cy="1231.5" r="3.2" fill="#fafdff" stroke="#a2afc0" stroke-width="1"/>
<circle cx="358.5" cy="1276.5" r="3.2" fill="#fafdff" stroke="#a2afc0" stroke-width="1"/>
<circle cx="262.5" cy="1353" r="3.2" fill="#fafdff" stroke="#a2afc0" stroke-width="1"/>
<circle cx="328.5" cy="1347.5" r="3.2" fill="#fafdff" stroke="#a2afc0" stroke-width="1"/>
<path d="M290.1,340.3 H294.6 L290.1,346.3 H294.6" transform="rotate(0 292.3 343.3)" stroke="#2a2a2a" stroke-width="1.25" fill="none"/>
<path d="M337.4,340.3 H341.9 L337.4,346.3 H341.9" transform="rotate(0 339.6 343.3)" stroke="#2a2a2a" stroke-width="1.25" fill="none"/>
<path d="M290.1,352.4 H294.6 L290.1,358.4 H294.6" transform="rotate(0 292.3 355.4)" stroke="#2a2a2a" stroke-width="1.25" fill="none"/>
<path d="M337.4,352.4 H341.9 L337.4,358.4 H341.9" transform="rotate(0 339.6 355.4)" stroke="#2a2a2a" stroke-width="1.25" fill="none"/>
<path d="M290.1,365.4 H294.6 L290.1,371.4 H294.6" transform="rotate(0 292.3 368.4)" stroke="#2a2a2a" stroke-width="1.25" fill="none"/>
<path d="M337.4,365.4 H341.9 L337.4,371.4 H341.9" transform="rotate(0 339.6 368.4)" stroke="#2a2a2a" stroke-width="1.25" fill="none"/>
<path d="M290.1,377.5 H294.6 L290.1,383.5 H294.6" transform="rotate(0 292.3 380.5)" stroke="#2a2a2a" stroke-width="1.25" fill="none"/>
<path d="M337.4,377.5 H341.9 L337.4,383.5 H341.9" transform="rotate(0 339.6 380.5)" stroke="#2a2a2a" stroke-width="1.25" fill="none"/>
<path d="M290.1,389.6 H294.6 L290.1,395.6 H294.6" transform="rotate(0 292.3 392.6)" stroke="#2a2a2a" stroke-width="1.25" fill="none"/>
<path d="M337.4,389.6 H341.9 L337.4,395.6 H341.9" transform="rotate(0 339.6 392.6)" stroke="#2a2a2a" stroke-width="1.25" fill="none"/>
<path d="M290.1,401.7 H294.6 L290.1,407.7 H294.6" transform="rotate(0 292.3 404.7)" stroke="#2a2a2a" stroke-width="1.25" fill="none"/>
<path d="M337.4,401.7 H341.9 L337.4,407.7 H341.9" transform="rotate(0 339.6 404.7)" stroke="#2a2a2a" stroke-width="1.25" fill="none"/>
<path d="M290.1,414.8 H294.6 L290.1,420.8 H294.6" transform="rotate(0 292.3 417.8)" stroke="#2a2a2a" stroke-width="1.25" fill="none"/>
<path d="M337.4,414.8 H341.9 L337.4,420.8 H341.9" transform="rotate(0 339.6 417.8)" stroke="#2a2a2a" stroke-width="1.25" fill="none"/>
<path d="M296.1,352.4 H300.6 L296.1,358.4 H300.6" transform="rotate(0 298.4 355.4)" stroke="#2a2a2a" stroke-width="1.25" fill="none"/>
<path d="M331.4,352.4 H335.9 L331.4,358.4 H335.9" transform="rotate(0 333.6 355.4)" stroke="#2a2a2a" stroke-width="1.25" fill="none"/>
<path d="M301.1,365.4 H305.6 L301.1,371.4 H305.6" transform="rotate(0 303.3 368.4)" stroke="#2a2a2a" stroke-width="1.25" fill="none"/>
<path d="M325.2,365.4 H329.8 L325.2,371.4 H329.8" transform="rotate(0 327.5 368.4)" stroke="#2a2a2a" stroke-width="1.25" fill="none"/>
<path d="M307.1,377.5 H311.6 L307.1,383.5 H311.6" transform="rotate(0 309.4 380.5)" stroke="#2a2a2a" stroke-width="1.25" fill="none"/>
<path d="M319.2,377.5 H323.8 L319.2,383.5 H323.8" transform="rotate(0 321.5 380.5)" stroke="#2a2a2a" stroke-width="1.25" fill="none"/>
<path d="M312.1,389.6 H316.6 L312.1,395.6 H316.6" transform="rotate(0 314.4 392.6)" stroke="#2a2a2a" stroke-width="1.25" fill="none"/>
<path d="M387.9,327.2 H395.9 L387.9,333.2 H395.9" transform="rotate(-15 391.9 330.2)" stroke="#2a2a2a" stroke-width="1.25" fill="none"/>
<path d="M384.9,340.3 H392.9 L384.9,346.3 H392.9" transform="rotate(-15 388.9 343.3)" stroke="#2a2a2a" stroke-width="1.25" fill="none"/>
<path d="M379.9,354.4 H387.9 L379.9,360.4 H387.9" transform="rotate(-15 383.9 357.4)" stroke="#2a2a2a" stroke-width="1.25" fill="none"/>
<path d="M393.9,354.4 H401.9 L393.9,360.4 H401.9" transform="rotate(-15 397.9 357.4)" stroke="#2a2a2a" stroke-width="1.25" fill="none"/>
<path d="M374.8,369.5 H382.8 L374.8,375.5 H382.8" transform="rotate(-15 378.8 372.5)" stroke="#2a2a2a" stroke-width="1.25" fill="none"/>
<path d="M386.9,366.4 H394.9 L386.9,372.4 H394.9" transform="rotate(-15 390.9 369.4)" stroke="#2a2a2a" stroke-width="1.25" fill="none"/>
<path d="M369.8,383.6 H377.8 L369.8,389.6 H377.8" transform="rotate(-15 373.8 386.6)" stroke="#2a2a2a" stroke-width="1.25" fill="none"/>
<path d="M386.9,380.5 H394.9 L386.9,386.5 H394.9" transform="rotate(-15 390.9 383.5)" stroke="#2a2a2a" stroke-width="1.25" fill="none"/>
<path d="M382.9,388.6 H390.9 L382.9,394.6 H390.9" transform="rotate(-15 386.9 391.6)" stroke="#2a2a2a" stroke-width="1.25" fill="none"/>
<path d="M366.8,399.7 H374.8 L366.8,405.7 H374.8" transform="rotate(-15 370.8 402.7)" stroke="#2a2a2a" stroke-width="1.25" fill="none"/>
<path d="M377.8,401.7 H385.8 L377.8,407.7 H385.8" transform="rotate(-15 381.8 404.7)" stroke="#2a2a2a" stroke-width="1.25" fill="none"/>
<path d="M433.2,325.2 H441.2 L433.2,331.2 H441.2" transform="rotate(-15 437.2 328.2)" stroke="#2a2a2a" stroke-width="1.25" fill="none"/>
<path d="M430.2,333.2 H438.2 L430.2,339.2 H438.2" transform="rotate(-15 434.2 336.2)" stroke="#2a2a2a" stroke-width="1.25" fill="none"/>
<path d="M428.2,342.3 H436.2 L428.2,348.3 H436.2" transform="rotate(-15 432.2 345.3)" stroke="#2a2a2a" stroke-width="1.25" fill="none"/>
<path d="M423.1,352.4 H431.1 L423.1,358.4 H431.1" transform="rotate(-15 427.1 355.4)" stroke="#2a2a2a" stroke-width="1.25" fill="none"/>
<path d="M415.1,360.4 H423.1 L415.1,366.4 H423.1" transform="rotate(-15 419.1 363.4)" stroke="#2a2a2a" stroke-width="1.25" fill="none"/>
<path d="M426.2,363.4 H434.2 L426.2,369.4 H434.2" transform="rotate(-15 430.2 366.4)" stroke="#2a2a2a" stroke-width="1.25" fill="none"/>
<path d="M407.0,372.5 H415.0 L407.0,378.5 H415.0" transform="rotate(-15 411.0 375.5)" stroke="#2a2a2a" stroke-width="1.25" fill="none"/>
<path d="M421.1,368.5 H429.1 L421.1,374.5 H429.1" transform="rotate(-15 425.1 371.5)" stroke="#2a2a2a" stroke-width="1.25" fill="none"/>
<path d="M429.2,376.5 H437.2 L429.2,382.5 H437.2" transform="rotate(-15 433.2 379.5)" stroke="#2a2a2a" stroke-width="1.25" fill="none"/>
<path d="M405.0,379.5 H413.0 L405.0,385.5 H413.0" transform="rotate(-15 409.0 382.5)" stroke="#2a2a2a" stroke-width="1.25" fill="none"/>
<path d="M413.1,393.6 H421.1 L413.1,399.6 H421.1" transform="rotate(-15 417.1 396.6)" stroke="#2a2a2a" stroke-width="1.25" fill="none"/>
<path d="M431.2,394.6 H439.2 L431.2,400.6 H439.2" transform="rotate(-15 435.2 397.6)" stroke="#2a2a2a" stroke-width="1.25" fill="none"/>
<path d="M435.2,403.7 H443.2 L435.2,409.7 H443.2" transform="rotate(-15 439.2 406.7)" stroke="#2a2a2a" stroke-width="1.25" fill="none"/>
<path d="M411.1,406.7 H419.1 L411.1,412.7 H419.1" transform="rotate(-15 415.1 409.7)" stroke="#2a2a2a" stroke-width="1.25" fill="none"/>
<path d="M393.9,391.6 H401.9 L393.9,397.6 H401.9" transform="rotate(-15 397.9 394.6)" stroke="#2a2a2a" stroke-width="1.25" fill="none"/>
<path d="M358.2,417.3 H367.2 L358.2,424.3 H367.2" transform="rotate(-10 362.7 420.8)" stroke="#2a2a2a" stroke-width="1.25" fill="none"/>
<path d="M369.3,415.3 H378.3 L369.3,422.3 H378.3" transform="rotate(-10 373.8 418.8)" stroke="#2a2a2a" stroke-width="1.25" fill="none"/>
<path d="M382.4,417.3 H391.4 L382.4,424.3 H391.4" transform="rotate(-10 386.9 420.8)" stroke="#2a2a2a" stroke-width="1.25" fill="none"/>
<path d="M392.4,419.3 H401.4 L392.4,426.3 H401.4" transform="rotate(-10 396.9 422.8)" stroke="#2a2a2a" stroke-width="1.25" fill="none"/>
<path d="M403.5,419.3 H412.5 L403.5,426.3 H412.5" transform="rotate(-10 408.0 422.8)" stroke="#2a2a2a" stroke-width="1.25" fill="none"/>
<path d="M414.6,417.3 H423.6 L414.6,424.3 H423.6" transform="rotate(-10 419.1 420.8)" stroke="#2a2a2a" stroke-width="1.25" fill="none"/>
<path d="M422.6,418.3 H431.6 L422.6,425.3 H431.6" transform="rotate(-10 427.1 421.8)" stroke="#2a2a2a" stroke-width="1.25" fill="none"/>
<path d="M429.7,417.3 H438.7 L429.7,424.3 H438.7" transform="rotate(-10 434.2 420.8)" stroke="#2a2a2a" stroke-width="1.25" fill="none"/>
<path d="M438.7,417.3 H447.7 L438.7,424.3 H447.7" transform="rotate(-10 443.2 420.8)" stroke="#2a2a2a" stroke-width="1.25" fill="none"/>
<path d="M446.8,419.3 H455.8 L446.8,426.3 H455.8" transform="rotate(-10 451.3 422.8)" stroke="#2a2a2a" stroke-width="1.25" fill="none"/>
<path d="M454.8,417.3 H463.8 L454.8,424.3 H463.8" transform="rotate(-10 459.3 420.8)" stroke="#2a2a2a" stroke-width="1.25" fill="none"/>
<path d="M473,418.8 L482.5,337.2 L505.6,379.5 L530.8,336.2 C529.5,360 529,390 528.8,415.7" stroke="#222" stroke-width="1.1" fill="none"/>
<ellipse cx="478.3" cy="368.4" rx="1.6" ry="3" stroke="#222" stroke-width="0.9" fill="none"/>
<rect x="284.5" y="520.5" width="5.5" height="8.5" stroke="#222" stroke-width="1" fill="none"/>
<rect x="293.5" y="520.5" width="5.5" height="8.5" stroke="#222" stroke-width="1" fill="none"/>
<rect x="303.5" y="520.5" width="5.5" height="8.5" stroke="#222" stroke-width="1" fill="none"/>
<rect x="313.5" y="520.5" width="5.5" height="8.5" stroke="#222" stroke-width="1" fill="none"/>
<rect x="323.5" y="520.5" width="5.5" height="8.5" stroke="#222" stroke-width="1" fill="none"/>
<rect x="333.5" y="520.5" width="5.5" height="8.5" stroke="#222" stroke-width="1" fill="none"/>
<rect x="343.5" y="520.5" width="5.5" height="8.5" stroke="#222" stroke-width="1" fill="none"/>
<rect x="288.5" y="510.5" width="5.5" height="8.5" stroke="#222" stroke-width="1" fill="none"/>
<rect x="293.5" y="500.5" width="5.5" height="8.5" stroke="#222" stroke-width="1" fill="none"/>
<rect x="298.5" y="491.5" width="5.5" height="8.5" stroke="#222" stroke-width="1" fill="none"/>
<rect x="303.5" y="482.5" width="5.5" height="8.5" stroke="#222" stroke-width="1" fill="none"/>
<rect x="308.5" y="472.5" width="5.5" height="8.5" stroke="#222" stroke-width="1" fill="none"/>
<rect x="313.5" y="463.5" width="5.5" height="8.5" stroke="#222" stroke-width="1" fill="none"/>
<rect x="338.5" y="510.5" width="5.5" height="8.5" stroke="#222" stroke-width="1" fill="none"/>
<rect x="333.5" y="500.5" width="5.5" height="8.5" stroke="#222" stroke-width="1" fill="none"/>
<rect x="328.5" y="491.5" width="5.5" height="8.5" stroke="#222" stroke-width="1" fill="none"/>
<rect x="323.5" y="482.5" width="5.5" height="8.5" stroke="#222" stroke-width="1" fill="none"/>
<rect x="318.5" y="472.5" width="5.5" height="8.5" stroke="#222" stroke-width="1" fill="none"/>
<rect x="376.6" y="462.5" width="4.5" height="6" rx="1" stroke="#222" stroke-width="1" fill="none" transform="rotate(-5 378.8 465.5)"/>
<rect x="376.6" y="472.1" width="4.5" height="6" rx="1" stroke="#222" stroke-width="1" fill="none" transform="rotate(0 378.8 475.1)"/>
<rect x="376.6" y="484.2" width="4.5" height="6" rx="1" stroke="#222" stroke-width="1" fill="none" transform="rotate(5 378.8 487.2)"/>
<rect x="376.6" y="497.3" width="4.5" height="10" rx="1" stroke="#222" stroke-width="1" fill="none" transform="rotate(8 378.8 502.3)"/>
<rect x="374.6" y="513.4" width="4.5" height="6" rx="1" stroke="#222" stroke-width="1" fill="none" transform="rotate(0 376.8 516.4)"/>
<rect x="374.2" y="528.1" width="4.5" height="6" rx="1" stroke="#222" stroke-width="1" fill="none" transform="rotate(0 376.4 531.1)"/>
<rect x="406.8" y="461.7" width="4.5" height="6" rx="1" stroke="#222" stroke-width="1" fill="none" transform="rotate(0 409.0 464.7)"/>
<rect x="407.2" y="471.3" width="4.5" height="6" rx="1" stroke="#222" stroke-width="1" fill="none" transform="rotate(10 409.4 474.3)"/>
<rect x="406.8" y="483.4" width="4.5" height="6" rx="1" stroke="#222" stroke-width="1" fill="none" transform="rotate(0 409.0 486.4)"/>
<rect x="407.8" y="496.3" width="4.5" height="6" rx="1" stroke="#222" stroke-width="1" fill="none" transform="rotate(0 410.0 499.3)"/>
<rect x="404.4" y="511.0" width="4.5" height="6" rx="1" stroke="#222" stroke-width="1" fill="none" transform="rotate(-30 406.6 514.0)"/>
<rect x="402.3" y="525.9" width="4.5" height="6" rx="1" stroke="#222" stroke-width="1" fill="none" transform="rotate(0 404.6 528.9)"/>
<rect x="430.9" y="461.0" width="4.5" height="6" rx="1" stroke="#222" stroke-width="1" fill="none" transform="rotate(0 433.2 464.0)"/>
<rect x="430.9" y="470.5" width="4.5" height="6" rx="1" stroke="#222" stroke-width="1" fill="none" transform="rotate(0 433.2 473.5)"/>
<rect x="431.9" y="483.4" width="4.5" height="6" rx="1" stroke="#222" stroke-width="1" fill="none" transform="rotate(-5 434.2 486.4)"/>
<rect x="431.9" y="497.7" width="4.5" height="6" rx="1" stroke="#222" stroke-width="1" fill="none" transform="rotate(0 434.2 500.7)"/>
<rect x="431.9" y="513.8" width="4.5" height="6" rx="1" stroke="#222" stroke-width="1" fill="none" transform="rotate(0 434.2 516.8)"/>
<rect x="431.9" y="527.5" width="4.5" height="6" rx="1" stroke="#222" stroke-width="1" fill="none" transform="rotate(10 434.2 530.5)"/>
<path d="M495.6,470.1 L456.3,525.4 C465,527 470,528.8 478,528.3 C490,527.5 500,525.8 512,526.2 C522,526.6 530,527.8 538.9,527.5 C530,505 515,485 501.2,470.1" stroke="#222" stroke-width="1.1" fill="none"/>
<text x="318" y="560.5" text-anchor="middle" font-size="8" fill="#555" font-family="Liberation Sans, sans-serif">제시된 그림</text>
<text x="406" y="560.5" text-anchor="middle" font-size="8" fill="#555" font-family="Liberation Sans, sans-serif">우뇌 환자</text>
<text x="496.6" y="560.5" text-anchor="middle" font-size="8" fill="#555" font-family="Liberation Sans, sans-serif">좌뇌 환자</text>
<defs><clipPath id="c_stem"><path d="M388.2,1043.0 C388.8,1042.5 396.3,1043.5 398.8,1045.4 C401.4,1047.2 401.2,1050.6 403.5,1054.2 C405.9,1057.9 410.2,1064.0 413.0,1067.2 C415.7,1070.3 419.7,1070.9 420.1,1073.1 C420.5,1075.3 417.3,1078.8 415.3,1080.2 C413.4,1081.5 409.8,1083.3 408.3,1081.4 C406.7,1079.4 407.0,1072.7 405.9,1068.4 C404.8,1064.0 403.5,1058.7 401.8,1055.4 C400.0,1052.1 397.5,1050.4 395.3,1048.3 C393.0,1046.3 387.6,1043.5 388.2,1043.0Z"/></clipPath><clipPath id="c_frontal"><path d="M342.2,1033.0 C338.8,1034.2 327.6,1031.0 322.1,1028.3 C316.6,1025.5 312.3,1021.2 309.2,1016.5 C306.0,1011.7 304.1,1005.5 303.3,999.9 C302.4,994.4 302.7,988.7 303.8,983.4 C305.0,978.1 307.3,972.8 310.3,968.1 C313.4,963.4 317.2,958.8 322.1,955.1 C327.1,951.4 334.1,948.6 339.8,945.7 C345.5,942.7 351.0,939.8 356.3,937.4 C361.7,935.1 366.2,932.7 371.7,931.5 C377.2,930.3 383.9,931.1 389.4,930.3 C394.9,929.6 399.6,927.5 404.7,926.8 C409.8,926.1 415.3,925.9 420.1,926.2 C424.8,926.5 435.2,926.9 433.0,928.6 C430.9,930.2 414.0,932.4 407.1,936.2 C400.2,940.1 395.5,946.9 391.7,951.6 C388.0,956.3 386.6,959.2 384.7,964.6 C382.7,969.9 383.1,979.5 379.9,983.4 C376.8,987.4 370.5,986.2 365.8,988.1 C361.1,990.1 355.2,992.1 351.6,995.2 C348.1,998.4 346.1,1002.7 344.6,1007.0 C343.0,1011.4 342.6,1016.9 342.2,1021.2 C341.8,1025.5 345.5,1031.8 342.2,1033.0Z"/></clipPath><clipPath id="c_parietal"><path d="M433.0,928.6 C439.9,928.4 443.9,932.8 448.4,935.1 C452.9,937.3 456.2,939.0 460.2,942.1 C464.1,945.3 469.4,950.6 472.0,953.9 C474.5,957.3 475.5,957.7 475.5,962.2 C475.5,966.7 473.0,975.2 472.0,981.1 C471.0,987.0 473.5,995.2 469.6,997.6 C465.7,999.9 454.9,996.4 448.4,995.2 C441.9,994.0 436.6,992.1 430.7,990.5 C424.8,988.9 418.9,987.0 413.0,985.8 C407.1,984.6 400.8,983.7 395.3,983.4 C389.8,983.1 381.7,987.2 379.9,984.0 C378.2,980.9 382.7,970.0 384.7,964.6 C386.6,959.1 388.0,956.3 391.7,951.6 C395.5,946.9 400.2,940.1 407.1,936.2 C414.0,932.4 426.2,928.8 433.0,928.6Z"/></clipPath><clipPath id="c_temporal"><path d="M379.9,984.0 C384.9,983.2 389.8,983.1 395.3,983.4 C400.8,983.7 407.1,984.6 413.0,985.8 C418.9,987.0 424.8,988.9 430.7,990.5 C436.6,992.1 441.9,994.0 448.4,995.2 C454.9,996.4 466.7,994.0 469.6,997.6 C472.6,1001.1 466.6,1011.1 466.1,1016.5 C465.6,1021.9 469.6,1027.3 466.7,1030.0 C463.7,1032.8 455.4,1031.9 448.4,1033.0 C441.4,1034.1 431.7,1035.3 424.8,1036.5 C417.9,1037.7 412.6,1038.9 407.1,1040.1 C401.6,1041.2 396.7,1042.6 391.7,1043.6 C386.8,1044.6 382.7,1046.0 377.6,1046.0 C372.5,1046.0 366.0,1044.6 361.1,1043.6 C356.2,1042.6 351.2,1041.8 348.1,1040.1 C344.9,1038.3 343.2,1036.1 342.2,1033.0 C341.2,1029.8 341.8,1025.5 342.2,1021.2 C342.6,1016.9 343.0,1011.4 344.6,1007.0 C346.1,1002.7 348.1,998.4 351.6,995.2 C355.2,992.1 361.1,990.0 365.8,988.1 C370.5,986.3 375.0,984.8 379.9,984.0Z"/></clipPath><clipPath id="c_occipital"><path d="M475.5,962.2 C477.5,960.6 480.8,967.3 483.8,971.6 C486.7,976.0 490.8,982.6 493.2,988.1 C495.6,993.7 497.3,999.6 497.9,1004.7 C498.5,1009.8 498.3,1014.9 496.7,1018.8 C495.2,1022.8 491.4,1026.1 488.5,1028.3 C485.5,1030.4 482.7,1031.5 479.0,1031.8 C475.4,1032.1 468.8,1032.6 466.7,1030.0 C464.5,1027.5 465.6,1021.9 466.1,1016.5 C466.6,1011.1 468.6,1003.5 469.6,997.6 C470.6,991.7 471.0,987.0 472.0,981.1 C473.0,975.2 473.5,963.8 475.5,962.2Z"/></clipPath><clipPath id="c_cereb"><path d="M398.8,1046.0 C399.4,1043.6 402.8,1041.8 407.1,1040.1 C411.4,1038.3 417.9,1036.6 424.8,1035.3 C431.7,1034.1 441.3,1033.0 448.4,1032.4 C455.5,1031.8 462.9,1030.9 467.3,1031.8 C471.6,1032.7 473.0,1035.1 474.3,1037.7 C475.7,1040.3 476.1,1044.0 475.5,1047.1 C474.9,1050.3 473.3,1053.8 470.8,1056.6 C468.2,1059.3 464.7,1061.5 460.2,1063.7 C455.6,1065.8 449.6,1068.4 443.7,1069.6 C437.8,1070.7 430.3,1071.5 424.8,1070.7 C419.3,1069.9 414.2,1067.6 410.6,1064.8 C407.1,1062.1 405.5,1057.4 403.5,1054.2 C401.6,1051.1 398.2,1048.3 398.8,1046.0Z"/></clipPath></defs>
<path d="M388.2,1043.0 C388.8,1042.5 396.3,1043.5 398.8,1045.4 C401.4,1047.2 401.2,1050.6 403.5,1054.2 C405.9,1057.9 410.2,1064.0 413.0,1067.2 C415.7,1070.3 419.7,1070.9 420.1,1073.1 C420.5,1075.3 417.3,1078.8 415.3,1080.2 C413.4,1081.5 409.8,1083.3 408.3,1081.4 C406.7,1079.4 407.0,1072.7 405.9,1068.4 C404.8,1064.0 403.5,1058.7 401.8,1055.4 C400.0,1052.1 397.5,1050.4 395.3,1048.3 C393.0,1046.3 387.6,1043.5 388.2,1043.0Z" fill="#93b957" stroke="#93b957" stroke-width="0.8"/>
<g clip-path="url(#c_stem)"><path d="M417,1054 418,1050 414,1048 409,1047 406,1044 M393,1055 397,1057 401,1059 405,1057 405,1053 M389,1048 393,1050 396,1053 397,1057 393,1060 M399,1053 398,1057 393,1057 388,1059 384,1058 M418,1078 422,1076 426,1079 429,1082 429,1086 M406,1051 407,1055 402,1057 401,1061 396,1062 M419,1049 417,1053 415,1057 416,1061 411,1062 M413,1051 418,1052 421,1056 426,1056 430,1059 M395,1081 390,1083 389,1087 385,1090 380,1089 M391,1044 396,1044 401,1042 402,1039 404,1035 M408,1066 407,1062 405,1058 404,1055 405,1051" stroke="#5d8a30" stroke-width="1.4" fill="none" opacity="0.6" stroke-linecap="round" stroke-linejoin="round"/><path d="M394,1074 394,1070 393,1066 396,1063 399,1060 M416,1072 421,1072 425,1075 423,1079 419,1081 M408,1074 412,1077 415,1079 418,1083 423,1083 M399,1056 398,1060 393,1061 388,1063 383,1063 M403,1062 398,1064 399,1068 400,1072 405,1073 M393,1043 397,1041 401,1039 406,1040 410,1043" stroke="#fff" stroke-width="1.4" fill="none" opacity="0.15" stroke-linecap="round" stroke-linejoin="round"/></g>
<path d="M342.2,1033.0 C338.8,1034.2 327.6,1031.0 322.1,1028.3 C316.6,1025.5 312.3,1021.2 309.2,1016.5 C306.0,1011.7 304.1,1005.5 303.3,999.9 C302.4,994.4 302.7,988.7 303.8,983.4 C305.0,978.1 307.3,972.8 310.3,968.1 C313.4,963.4 317.2,958.8 322.1,955.1 C327.1,951.4 334.1,948.6 339.8,945.7 C345.5,942.7 351.0,939.8 356.3,937.4 C361.7,935.1 366.2,932.7 371.7,931.5 C377.2,930.3 383.9,931.1 389.4,930.3 C394.9,929.6 399.6,927.5 404.7,926.8 C409.8,926.1 415.3,925.9 420.1,926.2 C424.8,926.5 435.2,926.9 433.0,928.6 C430.9,930.2 414.0,932.4 407.1,936.2 C400.2,940.1 395.5,946.9 391.7,951.6 C388.0,956.3 386.6,959.2 384.7,964.6 C382.7,969.9 383.1,979.5 379.9,983.4 C376.8,987.4 370.5,986.2 365.8,988.1 C361.1,990.1 355.2,992.1 351.6,995.2 C348.1,998.4 346.1,1002.7 344.6,1007.0 C343.0,1011.4 342.6,1016.9 342.2,1021.2 C341.8,1025.5 345.5,1031.8 342.2,1033.0Z" fill="#5464a2" stroke="#5464a2" stroke-width="0.8"/>
<g clip-path="url(#c_frontal)"><path d="M357,1014 355,1010 353,1006 348,1005 343,1005 M405,945 403,949 398,950 395,947 395,943 M383,1008 381,1012 382,1016 385,1019 389,1022 M430,1017 433,1013 432,1009 429,1006 431,1002 M370,976 374,978 379,978 383,981 387,979 M375,1020 380,1019 381,1015 384,1012 383,1008 M330,967 328,963 331,960 328,956 323,957 M329,935 330,939 331,943 330,946 329,950 M403,998 405,1002 401,1005 397,1006 394,1002 M433,973 437,975 440,979 438,982 433,983 M337,933 340,937 345,937 347,934 350,931 M387,1005 384,1008 379,1008 374,1009 370,1008 M377,1014 379,1010 381,1007 383,1003 386,1000 M368,973 372,971 374,968 371,964 369,961 M429,938 424,937 420,935 418,931 421,927 M432,942 436,945 437,949 434,952 429,954 M357,1016 359,1020 363,1022 367,1019 370,1016 M409,981 414,984 418,983 423,983 428,985 M411,954 408,951 405,948 409,945 414,945 M410,1001 412,1005 408,1007 403,1007 399,1004 M420,1014 417,1017 413,1020 409,1017 404,1018 M347,1023 347,1019 351,1017 356,1016 360,1013 M338,1030 333,1030 328,1030 324,1029 324,1025 M389,941 384,940 379,940 375,942 371,945 M365,976 361,979 356,979 352,981 347,980 M345,931 348,928 349,924 350,920 348,917 M398,944 393,944 388,943 385,946 381,948 M386,927 383,931 379,932 374,931 372,928 M345,998 350,998 353,1001 358,1003 362,1005 M429,957 432,960 436,962 441,960 442,956 M371,988 366,987 362,985 362,981 361,977 M352,961 354,958 353,954 351,950 348,947 M375,933 370,931 365,932 361,933 356,931 M370,955 368,959 366,962 364,966 360,968 M395,961 393,957 388,957 384,960 381,963 M372,1008 368,1011 364,1010 359,1010 354,1012 M348,988 350,991 355,993 360,993 364,994 M428,1012 424,1010 423,1006 427,1003 432,1003 M308,934 313,933 318,933 322,930 323,926 M404,943 403,947 405,951 402,954 397,955 M360,992 363,995 368,996 373,996 378,997 M430,1031 426,1030 421,1031 417,1028 415,1025 M424,992 422,988 418,986 419,982 416,979 M432,989 435,987 433,983 428,982 423,982 M431,998 434,1001 435,1005 434,1009 430,1011 M427,987 429,991 434,991 437,988 434,985 M355,951 352,948 347,948 344,945 340,942 M368,1010 373,1008 377,1007 380,1003 385,1003 M365,955 362,958 360,962 355,961 351,964 M345,983 350,984 354,986 353,990 354,994 M309,960 310,964 315,965 317,968 317,972 M317,1026 315,1022 311,1020 310,1016 305,1014 M431,1020 427,1018 422,1020 418,1018 419,1014 M413,1003 408,1003 406,1007 401,1009 402,1013 M361,969 366,968 368,965 373,965 377,963 M317,998 322,998 324,995 329,994 331,990 M423,984 423,988 419,991 420,995 421,999 M314,1005 310,1007 305,1007 300,1006 297,1003 M315,1031 316,1035 312,1038 314,1042 312,1045 M407,986 411,987 414,991 416,995 415,999 M418,999 413,999 409,997 404,996 400,995 M401,1025 406,1026 409,1029 413,1031 413,1035 M397,956 398,952 399,948 397,944 393,943 M332,1000 333,996 334,992 338,989 342,987 M326,1025 321,1025 316,1026 312,1025 312,1021 M355,941 353,944 349,946 344,944 341,947 M308,933 307,937 308,941 304,944 301,946 M315,983 318,980 323,978 327,977 332,979 M392,1009 389,1006 390,1003 395,1003 399,1006 M401,1030 404,1034 408,1033 410,1029 406,1027 M318,1020 320,1016 317,1013 312,1012 309,1009 M325,1000 322,997 318,994 317,991 320,987 M406,1024 404,1021 404,1017 400,1014 396,1013 M421,989 416,988 411,989 408,992 406,996 M363,945 359,943 354,941 349,940 345,943 M312,985 311,981 309,977 305,976 304,972 M378,927 383,928 387,925 390,922 388,919 M418,998 414,1000 409,1000 406,996 405,992 M342,944 343,940 345,937 350,936 355,936 M391,1003 390,999 388,996 383,996 378,995 M388,1002 384,1005 382,1009 379,1012 375,1011 M355,998 358,994 361,991 362,988 365,984 M320,1009 320,1005 321,1001 322,997 326,996 M330,979 332,982 332,986 334,990 339,990 M372,955 368,956 364,959 360,957 355,958 M358,1024 354,1022 353,1018 350,1015 346,1013 M353,950 352,946 349,943 344,942 339,944 M361,1032 366,1031 367,1027 371,1024 376,1025 M358,1004 361,1001 366,1000 367,996 371,994 M373,960 369,963 364,963 362,960 359,957 M357,1002 353,1003 350,1007 347,1009 346,1013 M401,1017 397,1020 395,1023 395,1027 399,1030 M346,1011 346,1015 341,1017 336,1017 334,1020 M353,990 358,990 363,991 367,989 372,991 M417,964 415,961 410,960 409,956 406,952 M323,944 328,943 330,939 333,936 337,934 M400,967 396,964 395,961 396,957 399,954 M356,1019 361,1018 365,1019 369,1017 372,1013 M338,976 335,972 331,970 328,966 326,963 M376,948 380,946 385,946 389,949 394,949 M386,977 387,981 390,984 388,988 390,992 M426,941 425,937 420,935 415,935 412,938 M424,993 419,993 414,994 410,996 408,1000 M425,942 426,946 422,949 424,953 426,956 M380,929 377,925 372,925 367,925 363,926 M358,965 362,968 362,972 362,976 358,978 M386,1009 387,1013 384,1016 383,1020 378,1021 M381,943 385,940 390,940 395,942 400,941 M320,1028 316,1025 315,1021 314,1017 318,1015 M422,1016 421,1012 416,1010 412,1012 409,1015 M372,967 370,971 367,974 363,976 362,980 M358,928 356,925 352,922 347,921 342,921 M421,1027 419,1023 416,1021 411,1019 407,1017 M329,1030 324,1030 322,1034 319,1037 317,1040 M399,994 394,993 390,994 387,997 383,1000 M365,1030 370,1030 374,1032 376,1036 379,1039 M427,1003 430,1000 433,997 438,996 443,996 M313,949 310,952 309,956 307,960 306,964 M433,987 434,983 436,979 439,976 444,976 M347,983 345,979 349,977 353,978 358,980 M402,932 398,935 393,936 390,933 386,931 M328,974 327,970 329,967 334,965 339,964 M315,1022 320,1022 324,1024 326,1028 325,1032 M379,987 377,983 376,979 372,976 368,974 M418,1008 420,1004 423,1001 428,1003 433,1003 M323,942 325,945 330,944 335,946 338,949 M392,980 390,976 390,972 394,969 392,965 M386,988 391,987 395,989 399,991 399,995 M429,926 432,923 435,920 438,917 440,913 M375,961 372,958 369,955 364,955 359,953 M356,987 360,985 364,982 365,978 370,977" stroke="#262f66" stroke-width="1.4" fill="none" opacity="0.6" stroke-linecap="round" stroke-linejoin="round"/><path d="M346,1013 342,1011 338,1008 340,1004 343,1001 M327,1022 331,1019 333,1016 338,1016 343,1014 M360,1009 364,1011 367,1014 365,1018 366,1021 M383,941 380,944 375,943 371,945 371,949 M426,972 430,969 431,965 430,961 426,960 M400,953 395,953 393,949 394,945 390,943 M353,1010 354,1007 358,1005 359,1001 363,999 M309,981 307,985 308,989 307,993 308,997 M333,947 329,949 325,948 320,949 316,947 M391,1019 388,1015 385,1012 380,1014 375,1014 M426,991 422,989 423,985 425,981 430,981 M380,935 381,931 383,927 388,927 392,926 M432,1016 430,1020 426,1022 421,1023 418,1021 M418,939 420,936 425,935 430,933 430,929 M338,963 341,960 341,956 342,952 347,951 M387,969 384,966 385,963 390,963 394,960 M374,941 370,943 369,947 372,950 377,950 M369,977 365,978 361,980 356,980 351,981 M430,947 429,943 424,942 421,939 422,935 M319,1001 315,999 312,996 314,992 313,988 M398,1012 400,1008 396,1005 392,1003 390,999 M386,991 391,990 393,987 397,986 402,983 M376,957 376,953 381,951 383,948 386,944 M371,968 372,972 371,976 372,980 368,982 M383,1023 383,1019 383,1015 383,1011 382,1007 M327,1028 326,1032 326,1036 326,1040 330,1043 M389,969 384,968 379,967 378,963 375,960 M357,1014 362,1015 365,1018 370,1016 375,1016 M362,984 367,985 369,981 371,977 371,973 M303,953 299,951 294,950 289,951 287,955 M351,985 356,983 360,985 360,989 359,992 M393,951 389,953 392,957 389,960 384,961 M428,1021 433,1022 436,1025 436,1029 432,1031 M307,975 310,972 315,971 320,972 322,976 M319,982 317,985 314,989 315,993 319,995 M313,1024 309,1025 304,1024 299,1025 296,1022 M402,974 398,977 394,979 389,980 385,978 M430,941 431,945 428,948 423,949 421,953 M417,997 412,997 410,1000 405,1001 403,997 M424,997 421,994 421,990 421,986 418,983 M350,1009 351,1005 347,1003 343,1001 340,997 M418,964 416,960 413,957 411,953 408,950 M326,968 328,964 324,961 319,964 318,967 M376,960 372,963 368,964 363,966 359,963 M410,945 409,941 404,941 400,938 395,939 M349,975 354,975 357,972 354,968 349,968 M388,986 387,990 387,994 386,998 383,1001 M355,970 355,966 352,962 351,959 353,955 M305,1025 306,1029 307,1033 304,1036 301,1040 M390,992 391,996 395,998 400,999 404,998 M425,1017 425,1013 422,1010 424,1006 422,1003 M429,965 430,961 428,957 432,954 432,950 M423,1028 428,1027 429,1023 429,1019 433,1018 M392,1002 389,1005 385,1007 382,1010 377,1011 M336,998 333,1001 336,1004 341,1005 344,1001 M392,953 387,955 386,959 389,963 393,965 M425,998 424,1002 426,1006 431,1006 434,1009 M410,1003 414,1005 418,1007 423,1009 427,1007 M324,961 329,961 333,963 333,967 333,971 M322,986 327,985 329,989 334,989 336,993 M373,1019 369,1017 367,1014 365,1010 360,1010 M350,1010 346,1013 344,1016 343,1020 342,1024 M431,931 426,931 421,930 421,926 424,923 M323,978 326,975 328,971 332,968 331,964 M369,952 373,949 377,947 378,943 374,941 M349,968 348,972 349,976 348,980 350,983" stroke="#fff" stroke-width="1.4" fill="none" opacity="0.15" stroke-linecap="round" stroke-linejoin="round"/></g>
<path d="M433.0,928.6 C439.9,928.4 443.9,932.8 448.4,935.1 C452.9,937.3 456.2,939.0 460.2,942.1 C464.1,945.3 469.4,950.6 472.0,953.9 C474.5,957.3 475.5,957.7 475.5,962.2 C475.5,966.7 473.0,975.2 472.0,981.1 C471.0,987.0 473.5,995.2 469.6,997.6 C465.7,999.9 454.9,996.4 448.4,995.2 C441.9,994.0 436.6,992.1 430.7,990.5 C424.8,988.9 418.9,987.0 413.0,985.8 C407.1,984.6 400.8,983.7 395.3,983.4 C389.8,983.1 381.7,987.2 379.9,984.0 C378.2,980.9 382.7,970.0 384.7,964.6 C386.6,959.1 388.0,956.3 391.7,951.6 C395.5,946.9 400.2,940.1 407.1,936.2 C414.0,932.4 426.2,928.8 433.0,928.6Z" fill="#589a5b" stroke="#589a5b" stroke-width="0.8"/>
<g clip-path="url(#c_parietal)"><path d="M385,949 384,952 385,956 387,960 385,964 M441,940 442,936 440,933 440,929 440,925 M403,975 402,978 399,982 396,985 391,987 M411,956 415,958 415,962 416,966 420,968 M451,975 456,974 459,971 462,968 467,967 M463,976 458,974 454,976 449,977 447,981 M440,957 436,958 432,961 431,965 431,969 M391,948 394,951 399,950 402,947 404,943 M475,992 470,991 467,988 465,984 460,983 M385,984 380,982 378,979 373,979 368,981 M395,991 395,987 397,983 398,979 402,978 M466,964 462,961 457,960 454,957 453,953 M465,957 464,953 460,951 456,949 454,945 M436,934 440,935 445,934 450,935 455,934 M419,977 423,979 427,978 431,980 436,978 M418,983 419,987 424,988 428,990 433,991 M434,992 433,988 435,984 434,980 436,976 M463,972 459,974 454,973 454,969 452,966 M381,983 386,981 390,984 394,982 399,981 M439,954 443,956 448,955 453,955 458,955 M469,985 469,989 474,990 474,994 479,995 M449,951 453,948 454,945 456,941 459,937 M418,936 414,937 409,939 405,938 403,934 M441,998 446,999 447,1002 446,1006 441,1008 M451,998 453,994 456,991 459,987 456,984 M442,983 437,983 433,981 429,983 424,985 M394,945 390,945 386,942 389,938 388,934 M465,996 460,997 456,999 451,998 448,994 M460,938 461,934 465,932 464,928 468,926 M442,935 442,931 446,929 445,925 443,921 M452,981 447,982 445,979 440,978 436,976 M473,957 474,953 470,951 465,952 460,952 M426,953 425,949 421,947 417,945 412,947 M395,970 398,967 403,967 407,965 411,962 M381,973 386,972 391,974 391,978 394,981 M461,972 456,973 452,970 451,966 448,963 M458,956 456,953 452,950 453,946 453,942 M452,944 455,940 453,937 451,933 447,931 M435,948 438,945 441,942 446,940 451,939 M397,938 393,935 388,937 385,940 380,938 M413,963 418,961 417,957 422,955 426,957 M474,965 477,968 478,972 478,976 482,978 M466,959 461,958 457,961 459,964 460,968 M384,947 383,944 382,940 377,938 373,940 M439,970 441,966 437,963 432,963 429,966 M460,982 455,982 454,978 456,974 459,971 M439,976 440,973 445,972 450,970 453,967 M423,933 426,936 431,934 434,937 439,939 M422,997 427,998 432,999 434,1003 439,1003 M474,964 479,962 483,961 486,958 483,954 M464,995 464,999 468,1001 470,1005 472,1008 M406,949 411,949 413,952 411,956 415,959 M381,951 385,953 389,952 394,952 397,956 M455,965 458,961 462,959 467,958 471,956 M464,981 464,977 462,974 460,970 459,966 M428,956 427,952 429,948 434,947 435,944 M472,958 469,960 464,962 459,963 454,962 M390,971 394,969 393,965 393,961 395,958 M410,966 412,962 417,961 422,963 426,965 M461,935 463,932 467,930 470,927 472,923 M473,955 476,958 481,958 483,954 487,951 M450,950 448,953 445,957 441,959 437,961" stroke="#234f27" stroke-width="1.4" fill="none" opacity="0.6" stroke-linecap="round" stroke-linejoin="round"/><path d="M459,963 454,964 449,965 446,969 449,972 M409,961 405,963 402,966 403,970 407,972 M411,945 414,942 410,939 406,937 401,935 M424,933 427,936 432,935 436,937 440,940 M395,935 390,936 386,933 381,932 378,935 M469,981 471,977 475,975 480,975 480,979 M381,960 376,960 372,958 371,954 371,950 M444,959 439,961 434,962 432,965 434,969 M426,995 430,992 431,988 436,988 440,986 M453,955 456,952 454,949 454,945 452,941 M436,961 441,961 442,957 443,953 443,949 M395,976 390,974 386,971 382,973 377,973 M426,981 425,977 428,974 433,975 436,971 M453,931 449,934 445,936 440,937 435,937 M443,952 438,953 437,957 433,960 435,964 M454,993 459,992 463,989 467,986 465,983 M437,973 434,970 430,968 425,967 420,966 M381,937 386,937 389,934 394,935 397,932 M422,997 426,994 431,995 436,997 439,1000 M454,938 451,941 448,945 450,948 455,949 M403,931 408,931 413,930 418,931 421,928 M450,960 454,957 459,956 462,953 466,950 M418,938 417,934 417,930 412,929 407,930 M380,968 382,972 384,975 389,975 394,975 M447,946 443,944 438,943 436,946 436,950 M432,947 435,950 439,953 444,952 448,955 M416,959 417,963 413,966 410,968 407,972 M447,984 451,986 455,987 459,985 458,981 M393,994 397,991 402,990 405,987 403,983 M436,941 441,943 443,946 441,950 438,953 M446,939 441,941 439,945 436,948 431,947 M434,955 429,953 424,954 423,958 419,959" stroke="#fff" stroke-width="1.4" fill="none" opacity="0.15" stroke-linecap="round" stroke-linejoin="round"/></g>
<path d="M379.9,984.0 C384.9,983.2 389.8,983.1 395.3,983.4 C400.8,983.7 407.1,984.6 413.0,985.8 C418.9,987.0 424.8,988.9 430.7,990.5 C436.6,992.1 441.9,994.0 448.4,995.2 C454.9,996.4 466.7,994.0 469.6,997.6 C472.6,1001.1 466.6,1011.1 466.1,1016.5 C465.6,1021.9 469.6,1027.3 466.7,1030.0 C463.7,1032.8 455.4,1031.9 448.4,1033.0 C441.4,1034.1 431.7,1035.3 424.8,1036.5 C417.9,1037.7 412.6,1038.9 407.1,1040.1 C401.6,1041.2 396.7,1042.6 391.7,1043.6 C386.8,1044.6 382.7,1046.0 377.6,1046.0 C372.5,1046.0 366.0,1044.6 361.1,1043.6 C356.2,1042.6 351.2,1041.8 348.1,1040.1 C344.9,1038.3 343.2,1036.1 342.2,1033.0 C341.2,1029.8 341.8,1025.5 342.2,1021.2 C342.6,1016.9 343.0,1011.4 344.6,1007.0 C346.1,1002.7 348.1,998.4 351.6,995.2 C355.2,992.1 361.1,990.0 365.8,988.1 C370.5,986.3 375.0,984.8 379.9,984.0Z" fill="#4cadc8" stroke="#4cadc8" stroke-width="0.8"/>
<g clip-path="url(#c_temporal)"><path d="M350,990 346,991 341,989 343,985 343,981 M423,986 420,983 415,984 413,987 410,990 M380,1033 384,1032 389,1033 394,1034 396,1038 M411,987 414,990 415,994 412,998 408,1000 M361,1025 365,1023 366,1019 367,1015 370,1012 M348,1043 352,1044 356,1041 355,1037 351,1036 M385,1016 385,1012 390,1011 393,1008 395,1004 M460,1000 456,1001 457,1005 455,1009 450,1010 M378,984 382,982 385,979 390,979 394,978 M372,1035 372,1031 376,1028 380,1030 382,1033 M409,1015 407,1019 406,1022 403,1026 403,1030 M384,1037 385,1041 386,1045 390,1048 395,1047 M453,1043 451,1039 452,1036 456,1033 460,1031 M425,1043 429,1041 432,1038 435,1035 439,1032 M424,987 429,986 434,985 438,983 440,979 M365,1033 367,1029 371,1027 373,1023 372,1019 M397,1016 393,1019 390,1022 391,1026 396,1026 M419,986 418,990 413,992 410,994 405,996 M384,1041 388,1044 393,1042 396,1039 400,1037 M379,1005 382,1002 386,1003 391,1004 396,1005 M360,998 356,995 357,992 353,989 355,985 M369,1037 372,1039 370,1043 372,1047 377,1048 M369,988 373,991 378,992 383,993 385,997 M368,992 367,988 371,986 375,987 380,988 M385,988 381,986 378,983 379,979 379,975 M368,1039 364,1037 365,1033 360,1031 360,1027 M447,993 446,996 449,1000 447,1004 445,1007 M362,1030 360,1034 359,1038 356,1040 352,1043 M444,989 439,990 435,993 430,992 428,989 M374,1018 370,1015 370,1011 375,1010 380,1010 M404,991 408,990 413,989 413,985 409,982 M388,988 393,986 397,985 402,985 406,983 M423,1000 419,997 419,994 417,990 415,986 M393,1014 397,1011 395,1008 390,1007 385,1008 M408,1036 407,1040 403,1042 398,1044 393,1043 M460,1022 463,1019 468,1019 473,1020 477,1023 M450,1034 448,1038 445,1041 440,1041 437,1038 M466,1021 469,1024 467,1028 469,1032 474,1031 M461,1032 465,1030 470,1031 475,1031 477,1027 M427,996 432,996 435,994 440,994 441,998 M358,1041 363,1039 363,1035 365,1031 369,1029 M462,985 459,989 462,992 458,995 456,999 M398,1034 395,1037 398,1041 401,1044 406,1044 M367,1020 362,1023 358,1021 353,1021 349,1023 M362,1019 358,1017 353,1017 349,1020 344,1020 M368,993 373,994 377,996 382,998 385,1001 M406,1010 406,1014 408,1017 405,1020 400,1020 M404,1021 399,1022 398,1026 400,1030 398,1033 M410,998 405,998 400,998 395,998 391,1000 M348,999 351,1002 356,1004 359,1007 363,1010 M395,987 399,989 400,993 396,995 392,998 M348,999 345,996 342,992 342,988 347,987 M439,1034 435,1031 432,1027 427,1028 425,1024 M462,1005 467,1005 472,1005 476,1002 477,998 M410,1020 415,1020 420,1019 423,1015 426,1012 M457,1004 460,1001 458,997 459,993 462,991 M415,1016 412,1019 415,1022 420,1021 420,1017 M365,1041 361,1044 363,1047 367,1050 367,1054 M364,992 365,988 370,987 373,984 376,981 M362,1045 360,1048 355,1048 350,1047 348,1043 M387,988 389,991 391,995 394,998 394,1002 M387,1029 392,1030 397,1030 398,1034 403,1034 M349,1001 347,1005 343,1006 342,1010 346,1013 M428,1011 430,1014 428,1018 425,1021 420,1022 M466,984 470,985 475,985 478,988 476,992 M422,1042 417,1041 414,1038 415,1034 410,1032 M458,985 463,983 465,980 464,976 469,974 M423,1018 427,1015 426,1011 427,1008 431,1006 M355,1044 350,1043 348,1040 343,1039 338,1037 M383,1018 382,1022 381,1026 378,1029 373,1030 M440,988 435,989 430,990 426,988 421,988 M374,1019 373,1015 377,1012 381,1013 385,1011 M455,987 455,984 457,980 453,977 454,973 M416,999 412,1002 409,1005 404,1005 400,1003 M447,999 442,1000 437,999 432,999 427,998" stroke="#226680" stroke-width="1.4" fill="none" opacity="0.6" stroke-linecap="round" stroke-linejoin="round"/><path d="M393,1004 391,1007 388,1011 392,1014 392,1018 M450,986 454,983 459,982 461,979 465,977 M371,989 368,986 364,985 359,987 355,984 M464,994 467,991 466,987 469,984 473,981 M425,1011 428,1015 433,1015 438,1016 442,1013 M427,1046 427,1042 431,1040 435,1043 439,1042 M440,1009 445,1008 450,1007 455,1008 456,1012 M417,1001 420,1004 425,1004 428,1007 433,1009 M458,1031 455,1027 450,1026 446,1027 442,1030 M406,999 403,1002 402,1006 405,1010 408,1013 M444,1022 440,1023 436,1021 432,1022 428,1019 M365,1021 365,1017 360,1016 357,1013 352,1012 M396,984 400,981 403,978 408,977 412,980 M378,1000 376,1003 371,1003 367,1006 367,1010 M414,990 410,988 405,989 406,993 410,994 M351,1022 352,1018 355,1015 360,1015 364,1012 M345,1009 350,1009 353,1005 355,1002 354,998 M415,1036 419,1039 421,1042 419,1046 414,1046 M432,1044 431,1048 426,1049 421,1049 416,1048 M427,1001 428,997 431,994 431,990 429,987 M391,1038 395,1040 399,1041 404,1043 405,1047 M393,1006 389,1003 389,999 393,997 393,993 M369,991 374,992 378,991 383,993 384,997 M372,1000 370,997 365,995 365,991 361,988 M440,1037 435,1038 430,1038 427,1035 422,1034 M447,985 451,982 456,981 461,982 464,979 M445,1008 440,1008 438,1005 439,1001 436,997 M430,1008 429,1004 430,1000 433,997 437,995 M427,1039 423,1038 419,1041 414,1041 413,1045 M356,1009 361,1007 364,1004 369,1003 370,999 M383,1013 380,1016 378,1020 373,1021 369,1018 M409,998 413,995 418,997 422,995 422,991 M443,1040 447,1038 451,1035 456,1035 460,1037 M385,993 381,995 376,997 372,994 367,996 M420,994 423,997 423,1001 419,1004 414,1005 M400,1027 399,1023 397,1019 392,1020 388,1023 M406,992 403,988 400,985 396,985 391,985 M368,1022 372,1024 377,1024 380,1028 379,1032" stroke="#fff" stroke-width="1.4" fill="none" opacity="0.15" stroke-linecap="round" stroke-linejoin="round"/></g>
<path d="M475.5,962.2 C477.5,960.6 480.8,967.3 483.8,971.6 C486.7,976.0 490.8,982.6 493.2,988.1 C495.6,993.7 497.3,999.6 497.9,1004.7 C498.5,1009.8 498.3,1014.9 496.7,1018.8 C495.2,1022.8 491.4,1026.1 488.5,1028.3 C485.5,1030.4 482.7,1031.5 479.0,1031.8 C475.4,1032.1 468.8,1032.6 466.7,1030.0 C464.5,1027.5 465.6,1021.9 466.1,1016.5 C466.6,1011.1 468.6,1003.5 469.6,997.6 C470.6,991.7 471.0,987.0 472.0,981.1 C473.0,975.2 473.5,963.8 475.5,962.2Z" fill="#cb5d74" stroke="#cb5d74" stroke-width="0.8"/>
<g clip-path="url(#c_occipital)"><path d="M468,970 470,967 467,964 462,963 460,959 M488,1031 493,1031 498,1032 503,1033 504,1036 M472,965 467,964 462,963 461,960 457,956 M491,983 488,980 486,976 482,974 484,970 M469,970 474,969 479,970 484,971 488,969 M471,990 474,993 475,997 478,1000 482,1002 M489,1015 490,1019 492,1022 494,1026 498,1028 M498,982 503,981 508,980 513,980 518,980 M472,983 474,979 470,976 465,978 461,976 M473,1028 469,1025 468,1022 472,1019 475,1015 M481,964 484,960 488,958 489,954 493,952 M484,1006 483,1002 478,1002 474,999 473,995 M475,978 479,975 484,976 488,978 492,976 M494,980 499,980 503,982 507,984 512,983 M498,987 500,991 505,991 510,990 512,986 M491,995 489,999 486,1002 481,1001 478,998 M468,967 470,971 467,974 466,978 468,982 M491,963 491,959 487,957 486,953 491,951 M491,1026 492,1030 489,1033 485,1035 481,1037 M485,987 481,990 483,994 482,998 478,1001" stroke="#8e3346" stroke-width="1.4" fill="none" opacity="0.6" stroke-linecap="round" stroke-linejoin="round"/><path d="M470,966 474,967 477,970 480,973 484,976 M488,1020 483,1019 478,1022 479,1025 483,1027 M469,1015 469,1019 469,1023 468,1027 469,1031 M495,1012 498,1015 495,1018 490,1020 486,1018 M493,977 495,974 499,971 500,967 502,963 M472,1027 470,1031 466,1033 464,1037 465,1041 M493,1016 488,1016 486,1020 482,1022 478,1024 M484,979 488,982 493,983 495,986 497,990 M483,971 488,971 493,972 494,976 490,978 M491,985 492,989 493,993 494,997 499,997 M471,1030 475,1028 480,1028 485,1028 488,1025" stroke="#fff" stroke-width="1.4" fill="none" opacity="0.15" stroke-linecap="round" stroke-linejoin="round"/></g>
<path d="M398.8,1046.0 C399.4,1043.6 402.8,1041.8 407.1,1040.1 C411.4,1038.3 417.9,1036.6 424.8,1035.3 C431.7,1034.1 441.3,1033.0 448.4,1032.4 C455.5,1031.8 462.9,1030.9 467.3,1031.8 C471.6,1032.7 473.0,1035.1 474.3,1037.7 C475.7,1040.3 476.1,1044.0 475.5,1047.1 C474.9,1050.3 473.3,1053.8 470.8,1056.6 C468.2,1059.3 464.7,1061.5 460.2,1063.7 C455.6,1065.8 449.6,1068.4 443.7,1069.6 C437.8,1070.7 430.3,1071.5 424.8,1070.7 C419.3,1069.9 414.2,1067.6 410.6,1064.8 C407.1,1062.1 405.5,1057.4 403.5,1054.2 C401.6,1051.1 398.2,1048.3 398.8,1046.0Z" fill="#c48345" stroke="#c48345" stroke-width="0.8"/>
<g clip-path="url(#c_cereb)"><path d="M399,1059 402,1056 407,1057 411,1058 416,1060 M472,1046 477,1044 477,1040 473,1038 469,1040 M464,1047 461,1050 456,1049 451,1049 448,1045 M400,1047 398,1051 401,1054 401,1058 401,1062 M405,1056 400,1056 395,1057 391,1056 386,1054 M467,1067 465,1064 461,1061 456,1060 451,1059 M450,1046 455,1046 457,1050 457,1054 459,1057 M409,1042 412,1045 417,1045 419,1042 423,1039 M416,1034 421,1035 425,1033 429,1031 434,1032 M452,1063 456,1061 461,1060 463,1056 459,1054 M432,1066 431,1062 433,1059 432,1055 427,1055 M475,1039 474,1043 478,1045 478,1049 478,1053 M419,1069 417,1066 420,1063 424,1060 428,1058 M453,1059 456,1056 454,1052 449,1052 447,1055 M405,1064 410,1063 410,1059 405,1057 401,1055 M475,1032 480,1031 482,1027 479,1024 481,1020 M447,1067 447,1063 450,1060 454,1057 452,1053 M455,1053 450,1051 450,1047 446,1045 442,1048 M443,1039 444,1043 448,1046 452,1045 457,1046 M444,1043 440,1041 435,1041 430,1043 425,1044 M408,1069 408,1073 408,1077 411,1080 407,1083 M437,1045 439,1049 437,1053 439,1057 436,1060 M423,1045 419,1047 414,1046 413,1042 416,1040 M408,1071 410,1067 413,1064 417,1061 416,1057 M410,1064 410,1068 413,1071 418,1069 423,1069 M466,1064 462,1062 459,1059 458,1055 459,1051 M453,1047 457,1044 461,1046 463,1050 464,1054 M418,1063 421,1066 426,1067 430,1069 432,1072" stroke="#7d4a1c" stroke-width="1.4" fill="none" opacity="0.6" stroke-linecap="round" stroke-linejoin="round"/><path d="M400,1037 398,1033 397,1029 394,1026 396,1023 M416,1034 415,1038 414,1042 410,1045 410,1049 M422,1067 422,1063 423,1059 426,1056 431,1054 M441,1045 444,1048 448,1050 449,1054 444,1056 M446,1064 441,1065 436,1065 431,1065 426,1066 M413,1039 409,1036 405,1038 400,1039 395,1039 M426,1041 422,1043 418,1040 414,1038 409,1037 M447,1053 450,1056 455,1056 460,1058 463,1056 M436,1054 441,1054 446,1054 449,1051 453,1048 M469,1054 469,1058 469,1062 467,1066 464,1068 M443,1068 442,1072 445,1075 450,1077 455,1077 M450,1048 455,1050 459,1051 463,1054 465,1057 M445,1055 440,1055 435,1056 431,1054 427,1055 M461,1040 466,1041 467,1045 466,1049 462,1051" stroke="#fff" stroke-width="1.4" fill="none" opacity="0.15" stroke-linecap="round" stroke-linejoin="round"/></g>
<text x="285" y="939.5" font-size="12" fill="#4f6cb8" font-family="Liberation Sans, sans-serif" letter-spacing="0.5" stroke="#4f6cb8" stroke-width="0.3">전두엽</text>
<text x="482" y="929" font-size="12" fill="#2f9a3a" font-family="Liberation Sans, sans-serif" letter-spacing="0.5" stroke="#2f9a3a" stroke-width="0.3">두정엽</text>
<text x="292.5" y="1059.5" font-size="12" fill="#3aa6b4" font-family="Liberation Sans, sans-serif" letter-spacing="0.5" stroke="#3aa6b4" stroke-width="0.3">측두엽</text>
<text x="483" y="1059" font-size="12" fill="#cc3a5a" font-family="Liberation Sans, sans-serif" letter-spacing="0.5" stroke="#cc3a5a" stroke-width="0.3">후두엽</text>
<path d="M305,946 C303,953 309,959 317,962 M311,962.5 L317,962 L315.5,956" stroke="#2f4cb0" stroke-width="1.4" fill="none"/>
<path d="M478,924.5 C470,924 463,928 457,936 M457,930.5 L457,936 L462.5,935.5" stroke="#2a9a2a" stroke-width="1.4" fill="none"/>
<path d="M334,1053.5 C341,1052 347,1048 351.5,1042.5 M346,1043.5 L351.5,1042.5 L351,1048" stroke="#20a0a8" stroke-width="1.4" fill="none"/>
<path d="M496,1046 C501,1038 502,1028 497,1018.5 M494.5,1023 L497,1018.5 L501.5,1020.5" stroke="#d02040" stroke-width="1.4" fill="none"/>
</svg>
</body></html>
